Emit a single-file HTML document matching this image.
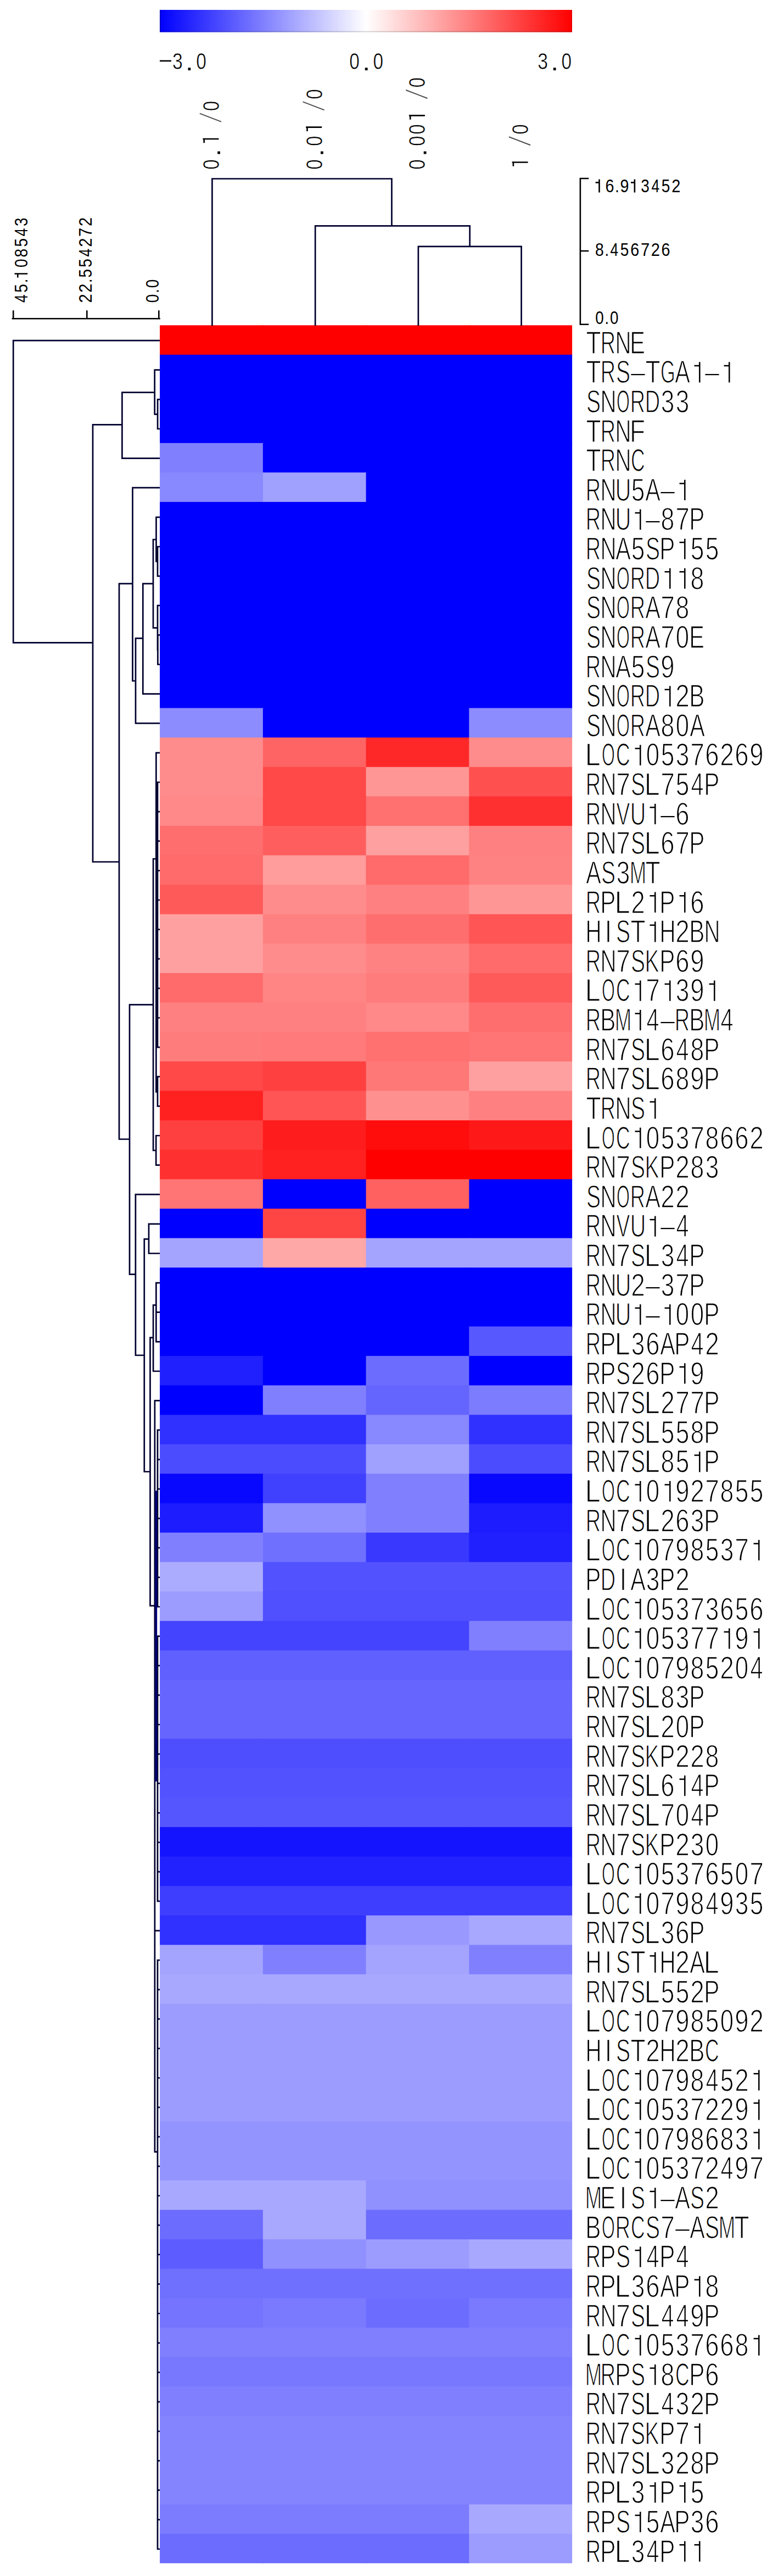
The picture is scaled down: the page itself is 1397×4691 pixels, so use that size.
<!DOCTYPE html>
<html><head><meta charset="utf-8"><title>Heatmap</title>
<style>html,body{margin:0;padding:0;background:#fff;}body{width:1397px;height:4691px;position:relative;overflow:hidden;}text{fill:#000;}</style>
</head><body>
<svg width="1397" height="4691" viewBox="0 0 1397 4691" style="position:absolute;left:0;top:0">
<defs><linearGradient id="g" x1="0" x2="1" y1="0" y2="0"><stop offset="0" stop-color="#0000ff"/><stop offset="0.5" stop-color="#ffffff"/><stop offset="1" stop-color="#ff0000"/></linearGradient></defs>
<rect x="291" y="18" width="751" height="40.6" fill="url(#g)"/>
<rect x="291" y="18" width="2" height="40.6" fill="#000" fill-opacity="0.22"/><rect x="293" y="56.6" width="749" height="2" fill="#000" fill-opacity="0.16"/><rect x="1040.4" y="18" width="1.6" height="38.6" fill="#000" fill-opacity="0.1"/>
<rect x="291.10" y="592.30" width="189.25" height="55.12" fill="#ff0000"/>
<rect x="478.85" y="592.30" width="189.25" height="55.12" fill="#ff0000"/>
<rect x="666.60" y="592.30" width="189.25" height="55.12" fill="#ff0000"/>
<rect x="854.35" y="592.30" width="187.75" height="55.12" fill="#ff0000"/>
<rect x="291.10" y="645.92" width="189.25" height="55.12" fill="#0000ff"/>
<rect x="478.85" y="645.92" width="189.25" height="55.12" fill="#0000ff"/>
<rect x="666.60" y="645.92" width="189.25" height="55.12" fill="#0000ff"/>
<rect x="854.35" y="645.92" width="187.75" height="55.12" fill="#0000ff"/>
<rect x="291.10" y="699.55" width="189.25" height="55.12" fill="#0000ff"/>
<rect x="478.85" y="699.55" width="189.25" height="55.12" fill="#0000ff"/>
<rect x="666.60" y="699.55" width="189.25" height="55.12" fill="#0000ff"/>
<rect x="854.35" y="699.55" width="187.75" height="55.12" fill="#0000ff"/>
<rect x="291.10" y="753.17" width="189.25" height="55.12" fill="#0000ff"/>
<rect x="478.85" y="753.17" width="189.25" height="55.12" fill="#0000ff"/>
<rect x="666.60" y="753.17" width="189.25" height="55.12" fill="#0000ff"/>
<rect x="854.35" y="753.17" width="187.75" height="55.12" fill="#0000ff"/>
<rect x="291.10" y="806.80" width="189.25" height="55.12" fill="#8080ff"/>
<rect x="478.85" y="806.80" width="189.25" height="55.12" fill="#0000ff"/>
<rect x="666.60" y="806.80" width="189.25" height="55.12" fill="#0000ff"/>
<rect x="854.35" y="806.80" width="187.75" height="55.12" fill="#0000ff"/>
<rect x="291.10" y="860.42" width="189.25" height="55.12" fill="#8888ff"/>
<rect x="478.85" y="860.42" width="189.25" height="55.12" fill="#a0a0ff"/>
<rect x="666.60" y="860.42" width="189.25" height="55.12" fill="#0000ff"/>
<rect x="854.35" y="860.42" width="187.75" height="55.12" fill="#0000ff"/>
<rect x="291.10" y="914.05" width="189.25" height="55.12" fill="#0000ff"/>
<rect x="478.85" y="914.05" width="189.25" height="55.12" fill="#0000ff"/>
<rect x="666.60" y="914.05" width="189.25" height="55.12" fill="#0000ff"/>
<rect x="854.35" y="914.05" width="187.75" height="55.12" fill="#0000ff"/>
<rect x="291.10" y="967.67" width="189.25" height="55.12" fill="#0000ff"/>
<rect x="478.85" y="967.67" width="189.25" height="55.12" fill="#0000ff"/>
<rect x="666.60" y="967.67" width="189.25" height="55.12" fill="#0000ff"/>
<rect x="854.35" y="967.67" width="187.75" height="55.12" fill="#0000ff"/>
<rect x="291.10" y="1021.30" width="189.25" height="55.12" fill="#0000ff"/>
<rect x="478.85" y="1021.30" width="189.25" height="55.12" fill="#0000ff"/>
<rect x="666.60" y="1021.30" width="189.25" height="55.12" fill="#0000ff"/>
<rect x="854.35" y="1021.30" width="187.75" height="55.12" fill="#0000ff"/>
<rect x="291.10" y="1074.92" width="189.25" height="55.12" fill="#0000ff"/>
<rect x="478.85" y="1074.92" width="189.25" height="55.12" fill="#0000ff"/>
<rect x="666.60" y="1074.92" width="189.25" height="55.12" fill="#0000ff"/>
<rect x="854.35" y="1074.92" width="187.75" height="55.12" fill="#0000ff"/>
<rect x="291.10" y="1128.55" width="189.25" height="55.12" fill="#0000ff"/>
<rect x="478.85" y="1128.55" width="189.25" height="55.12" fill="#0000ff"/>
<rect x="666.60" y="1128.55" width="189.25" height="55.12" fill="#0000ff"/>
<rect x="854.35" y="1128.55" width="187.75" height="55.12" fill="#0000ff"/>
<rect x="291.10" y="1182.17" width="189.25" height="55.12" fill="#0000ff"/>
<rect x="478.85" y="1182.17" width="189.25" height="55.12" fill="#0000ff"/>
<rect x="666.60" y="1182.17" width="189.25" height="55.12" fill="#0000ff"/>
<rect x="854.35" y="1182.17" width="187.75" height="55.12" fill="#0000ff"/>
<rect x="291.10" y="1235.80" width="189.25" height="55.12" fill="#0000ff"/>
<rect x="478.85" y="1235.80" width="189.25" height="55.12" fill="#0000ff"/>
<rect x="666.60" y="1235.80" width="189.25" height="55.12" fill="#0000ff"/>
<rect x="854.35" y="1235.80" width="187.75" height="55.12" fill="#0000ff"/>
<rect x="291.10" y="1289.42" width="189.25" height="55.12" fill="#8c8cff"/>
<rect x="478.85" y="1289.42" width="189.25" height="55.12" fill="#0000ff"/>
<rect x="666.60" y="1289.42" width="189.25" height="55.12" fill="#0000ff"/>
<rect x="854.35" y="1289.42" width="187.75" height="55.12" fill="#8c8cff"/>
<rect x="291.10" y="1343.05" width="189.25" height="55.12" fill="#ff8c8c"/>
<rect x="478.85" y="1343.05" width="189.25" height="55.12" fill="#ff6464"/>
<rect x="666.60" y="1343.05" width="189.25" height="55.12" fill="#ff2828"/>
<rect x="854.35" y="1343.05" width="187.75" height="55.12" fill="#ff8c8c"/>
<rect x="291.10" y="1396.67" width="189.25" height="55.12" fill="#ff8c8c"/>
<rect x="478.85" y="1396.67" width="189.25" height="55.12" fill="#ff4848"/>
<rect x="666.60" y="1396.67" width="189.25" height="55.12" fill="#ff9696"/>
<rect x="854.35" y="1396.67" width="187.75" height="55.12" fill="#ff5050"/>
<rect x="291.10" y="1450.30" width="189.25" height="55.12" fill="#ff8888"/>
<rect x="478.85" y="1450.30" width="189.25" height="55.12" fill="#ff4848"/>
<rect x="666.60" y="1450.30" width="189.25" height="55.12" fill="#ff7070"/>
<rect x="854.35" y="1450.30" width="187.75" height="55.12" fill="#ff3030"/>
<rect x="291.10" y="1503.92" width="189.25" height="55.12" fill="#ff6e6e"/>
<rect x="478.85" y="1503.92" width="189.25" height="55.12" fill="#ff5e5e"/>
<rect x="666.60" y="1503.92" width="189.25" height="55.12" fill="#ffa0a0"/>
<rect x="854.35" y="1503.92" width="187.75" height="55.12" fill="#ff8080"/>
<rect x="291.10" y="1557.55" width="189.25" height="55.12" fill="#ff6a6a"/>
<rect x="478.85" y="1557.55" width="189.25" height="55.12" fill="#ff9c9c"/>
<rect x="666.60" y="1557.55" width="189.25" height="55.12" fill="#ff6a6a"/>
<rect x="854.35" y="1557.55" width="187.75" height="55.12" fill="#ff8282"/>
<rect x="291.10" y="1611.17" width="189.25" height="55.12" fill="#ff5a5a"/>
<rect x="478.85" y="1611.17" width="189.25" height="55.12" fill="#ff8c8c"/>
<rect x="666.60" y="1611.17" width="189.25" height="55.12" fill="#ff8080"/>
<rect x="854.35" y="1611.17" width="187.75" height="55.12" fill="#ff9696"/>
<rect x="291.10" y="1664.80" width="189.25" height="55.12" fill="#ffa0a0"/>
<rect x="478.85" y="1664.80" width="189.25" height="55.12" fill="#ff8080"/>
<rect x="666.60" y="1664.80" width="189.25" height="55.12" fill="#ff6e6e"/>
<rect x="854.35" y="1664.80" width="187.75" height="55.12" fill="#ff5555"/>
<rect x="291.10" y="1718.42" width="189.25" height="55.12" fill="#ffa0a0"/>
<rect x="478.85" y="1718.42" width="189.25" height="55.12" fill="#ff8c8c"/>
<rect x="666.60" y="1718.42" width="189.25" height="55.12" fill="#ff8282"/>
<rect x="854.35" y="1718.42" width="187.75" height="55.12" fill="#ff6a6a"/>
<rect x="291.10" y="1772.05" width="189.25" height="55.12" fill="#ff6a6a"/>
<rect x="478.85" y="1772.05" width="189.25" height="55.12" fill="#ff8585"/>
<rect x="666.60" y="1772.05" width="189.25" height="55.12" fill="#ff7c7c"/>
<rect x="854.35" y="1772.05" width="187.75" height="55.12" fill="#ff5a5a"/>
<rect x="291.10" y="1825.67" width="189.25" height="55.12" fill="#ff8080"/>
<rect x="478.85" y="1825.67" width="189.25" height="55.12" fill="#ff8080"/>
<rect x="666.60" y="1825.67" width="189.25" height="55.12" fill="#ff8888"/>
<rect x="854.35" y="1825.67" width="187.75" height="55.12" fill="#ff6e6e"/>
<rect x="291.10" y="1879.30" width="189.25" height="55.12" fill="#ff7c7c"/>
<rect x="478.85" y="1879.30" width="189.25" height="55.12" fill="#ff7a7a"/>
<rect x="666.60" y="1879.30" width="189.25" height="55.12" fill="#ff7070"/>
<rect x="854.35" y="1879.30" width="187.75" height="55.12" fill="#ff7474"/>
<rect x="291.10" y="1932.92" width="189.25" height="55.12" fill="#ff4848"/>
<rect x="478.85" y="1932.92" width="189.25" height="55.12" fill="#ff4040"/>
<rect x="666.60" y="1932.92" width="189.25" height="55.12" fill="#ff7878"/>
<rect x="854.35" y="1932.92" width="187.75" height="55.12" fill="#ffa0a0"/>
<rect x="291.10" y="1986.55" width="189.25" height="55.12" fill="#ff2020"/>
<rect x="478.85" y="1986.55" width="189.25" height="55.12" fill="#ff5555"/>
<rect x="666.60" y="1986.55" width="189.25" height="55.12" fill="#ff9090"/>
<rect x="854.35" y="1986.55" width="187.75" height="55.12" fill="#ff8080"/>
<rect x="291.10" y="2040.17" width="189.25" height="55.12" fill="#ff4040"/>
<rect x="478.85" y="2040.17" width="189.25" height="55.12" fill="#ff1c1c"/>
<rect x="666.60" y="2040.17" width="189.25" height="55.12" fill="#ff0c0c"/>
<rect x="854.35" y="2040.17" width="187.75" height="55.12" fill="#ff1818"/>
<rect x="291.10" y="2093.80" width="189.25" height="55.12" fill="#ff3030"/>
<rect x="478.85" y="2093.80" width="189.25" height="55.12" fill="#ff2020"/>
<rect x="666.60" y="2093.80" width="189.25" height="55.12" fill="#ff0000"/>
<rect x="854.35" y="2093.80" width="187.75" height="55.12" fill="#ff0000"/>
<rect x="291.10" y="2147.43" width="189.25" height="55.12" fill="#ff7474"/>
<rect x="478.85" y="2147.43" width="189.25" height="55.12" fill="#0000ff"/>
<rect x="666.60" y="2147.43" width="189.25" height="55.12" fill="#ff6060"/>
<rect x="854.35" y="2147.43" width="187.75" height="55.12" fill="#0000ff"/>
<rect x="291.10" y="2201.05" width="189.25" height="55.12" fill="#0000ff"/>
<rect x="478.85" y="2201.05" width="189.25" height="55.12" fill="#ff4444"/>
<rect x="666.60" y="2201.05" width="189.25" height="55.12" fill="#0000ff"/>
<rect x="854.35" y="2201.05" width="187.75" height="55.12" fill="#0000ff"/>
<rect x="291.10" y="2254.68" width="189.25" height="55.12" fill="#a4a4ff"/>
<rect x="478.85" y="2254.68" width="189.25" height="55.12" fill="#ffa8a8"/>
<rect x="666.60" y="2254.68" width="189.25" height="55.12" fill="#a4a4ff"/>
<rect x="854.35" y="2254.68" width="187.75" height="55.12" fill="#a4a4ff"/>
<rect x="291.10" y="2308.30" width="189.25" height="55.12" fill="#0000ff"/>
<rect x="478.85" y="2308.30" width="189.25" height="55.12" fill="#0000ff"/>
<rect x="666.60" y="2308.30" width="189.25" height="55.12" fill="#0000ff"/>
<rect x="854.35" y="2308.30" width="187.75" height="55.12" fill="#0000ff"/>
<rect x="291.10" y="2361.93" width="189.25" height="55.12" fill="#0000ff"/>
<rect x="478.85" y="2361.93" width="189.25" height="55.12" fill="#0000ff"/>
<rect x="666.60" y="2361.93" width="189.25" height="55.12" fill="#0000ff"/>
<rect x="854.35" y="2361.93" width="187.75" height="55.12" fill="#0000ff"/>
<rect x="291.10" y="2415.55" width="189.25" height="55.12" fill="#0000ff"/>
<rect x="478.85" y="2415.55" width="189.25" height="55.12" fill="#0000ff"/>
<rect x="666.60" y="2415.55" width="189.25" height="55.12" fill="#0000ff"/>
<rect x="854.35" y="2415.55" width="187.75" height="55.12" fill="#5858ff"/>
<rect x="291.10" y="2469.18" width="189.25" height="55.12" fill="#2020ff"/>
<rect x="478.85" y="2469.18" width="189.25" height="55.12" fill="#0000ff"/>
<rect x="666.60" y="2469.18" width="189.25" height="55.12" fill="#6c6cff"/>
<rect x="854.35" y="2469.18" width="187.75" height="55.12" fill="#0000ff"/>
<rect x="291.10" y="2522.80" width="189.25" height="55.12" fill="#0000ff"/>
<rect x="478.85" y="2522.80" width="189.25" height="55.12" fill="#8080ff"/>
<rect x="666.60" y="2522.80" width="189.25" height="55.12" fill="#6464ff"/>
<rect x="854.35" y="2522.80" width="187.75" height="55.12" fill="#7c7cff"/>
<rect x="291.10" y="2576.43" width="189.25" height="55.12" fill="#3030ff"/>
<rect x="478.85" y="2576.43" width="189.25" height="55.12" fill="#3030ff"/>
<rect x="666.60" y="2576.43" width="189.25" height="55.12" fill="#8888ff"/>
<rect x="854.35" y="2576.43" width="187.75" height="55.12" fill="#3030ff"/>
<rect x="291.10" y="2630.05" width="189.25" height="55.12" fill="#4c4cff"/>
<rect x="478.85" y="2630.05" width="189.25" height="55.12" fill="#4c4cff"/>
<rect x="666.60" y="2630.05" width="189.25" height="55.12" fill="#a0a0ff"/>
<rect x="854.35" y="2630.05" width="187.75" height="55.12" fill="#4c4cff"/>
<rect x="291.10" y="2683.68" width="189.25" height="55.12" fill="#0808ff"/>
<rect x="478.85" y="2683.68" width="189.25" height="55.12" fill="#4040ff"/>
<rect x="666.60" y="2683.68" width="189.25" height="55.12" fill="#8080ff"/>
<rect x="854.35" y="2683.68" width="187.75" height="55.12" fill="#0808ff"/>
<rect x="291.10" y="2737.30" width="189.25" height="55.12" fill="#1c1cff"/>
<rect x="478.85" y="2737.30" width="189.25" height="55.12" fill="#9090ff"/>
<rect x="666.60" y="2737.30" width="189.25" height="55.12" fill="#8080ff"/>
<rect x="854.35" y="2737.30" width="187.75" height="55.12" fill="#1c1cff"/>
<rect x="291.10" y="2790.93" width="189.25" height="55.12" fill="#8080ff"/>
<rect x="478.85" y="2790.93" width="189.25" height="55.12" fill="#7070ff"/>
<rect x="666.60" y="2790.93" width="189.25" height="55.12" fill="#3838ff"/>
<rect x="854.35" y="2790.93" width="187.75" height="55.12" fill="#2020ff"/>
<rect x="291.10" y="2844.55" width="189.25" height="55.12" fill="#acacff"/>
<rect x="478.85" y="2844.55" width="189.25" height="55.12" fill="#5252ff"/>
<rect x="666.60" y="2844.55" width="189.25" height="55.12" fill="#5252ff"/>
<rect x="854.35" y="2844.55" width="187.75" height="55.12" fill="#5252ff"/>
<rect x="291.10" y="2898.18" width="189.25" height="55.12" fill="#9c9cff"/>
<rect x="478.85" y="2898.18" width="189.25" height="55.12" fill="#5050ff"/>
<rect x="666.60" y="2898.18" width="189.25" height="55.12" fill="#5050ff"/>
<rect x="854.35" y="2898.18" width="187.75" height="55.12" fill="#5050ff"/>
<rect x="291.10" y="2951.80" width="189.25" height="55.12" fill="#4444ff"/>
<rect x="478.85" y="2951.80" width="189.25" height="55.12" fill="#4444ff"/>
<rect x="666.60" y="2951.80" width="189.25" height="55.12" fill="#4444ff"/>
<rect x="854.35" y="2951.80" width="187.75" height="55.12" fill="#8080ff"/>
<rect x="291.10" y="3005.43" width="189.25" height="55.12" fill="#6060ff"/>
<rect x="478.85" y="3005.43" width="189.25" height="55.12" fill="#6060ff"/>
<rect x="666.60" y="3005.43" width="189.25" height="55.12" fill="#6060ff"/>
<rect x="854.35" y="3005.43" width="187.75" height="55.12" fill="#6060ff"/>
<rect x="291.10" y="3059.05" width="189.25" height="55.12" fill="#6666ff"/>
<rect x="478.85" y="3059.05" width="189.25" height="55.12" fill="#6666ff"/>
<rect x="666.60" y="3059.05" width="189.25" height="55.12" fill="#6666ff"/>
<rect x="854.35" y="3059.05" width="187.75" height="55.12" fill="#6666ff"/>
<rect x="291.10" y="3112.68" width="189.25" height="55.12" fill="#6666ff"/>
<rect x="478.85" y="3112.68" width="189.25" height="55.12" fill="#6666ff"/>
<rect x="666.60" y="3112.68" width="189.25" height="55.12" fill="#6666ff"/>
<rect x="854.35" y="3112.68" width="187.75" height="55.12" fill="#6666ff"/>
<rect x="291.10" y="3166.30" width="189.25" height="55.12" fill="#4e4eff"/>
<rect x="478.85" y="3166.30" width="189.25" height="55.12" fill="#4e4eff"/>
<rect x="666.60" y="3166.30" width="189.25" height="55.12" fill="#4e4eff"/>
<rect x="854.35" y="3166.30" width="187.75" height="55.12" fill="#4e4eff"/>
<rect x="291.10" y="3219.93" width="189.25" height="55.12" fill="#5252ff"/>
<rect x="478.85" y="3219.93" width="189.25" height="55.12" fill="#5252ff"/>
<rect x="666.60" y="3219.93" width="189.25" height="55.12" fill="#5252ff"/>
<rect x="854.35" y="3219.93" width="187.75" height="55.12" fill="#5252ff"/>
<rect x="291.10" y="3273.55" width="189.25" height="55.12" fill="#5656ff"/>
<rect x="478.85" y="3273.55" width="189.25" height="55.12" fill="#5656ff"/>
<rect x="666.60" y="3273.55" width="189.25" height="55.12" fill="#5656ff"/>
<rect x="854.35" y="3273.55" width="187.75" height="55.12" fill="#5656ff"/>
<rect x="291.10" y="3327.18" width="189.25" height="55.12" fill="#1414ff"/>
<rect x="478.85" y="3327.18" width="189.25" height="55.12" fill="#1414ff"/>
<rect x="666.60" y="3327.18" width="189.25" height="55.12" fill="#1414ff"/>
<rect x="854.35" y="3327.18" width="187.75" height="55.12" fill="#1414ff"/>
<rect x="291.10" y="3380.80" width="189.25" height="55.12" fill="#2222ff"/>
<rect x="478.85" y="3380.80" width="189.25" height="55.12" fill="#2222ff"/>
<rect x="666.60" y="3380.80" width="189.25" height="55.12" fill="#2222ff"/>
<rect x="854.35" y="3380.80" width="187.75" height="55.12" fill="#2222ff"/>
<rect x="291.10" y="3434.43" width="189.25" height="55.12" fill="#3e3eff"/>
<rect x="478.85" y="3434.43" width="189.25" height="55.12" fill="#3e3eff"/>
<rect x="666.60" y="3434.43" width="189.25" height="55.12" fill="#3e3eff"/>
<rect x="854.35" y="3434.43" width="187.75" height="55.12" fill="#3e3eff"/>
<rect x="291.10" y="3488.05" width="189.25" height="55.12" fill="#3030ff"/>
<rect x="478.85" y="3488.05" width="189.25" height="55.12" fill="#3030ff"/>
<rect x="666.60" y="3488.05" width="189.25" height="55.12" fill="#9898ff"/>
<rect x="854.35" y="3488.05" width="187.75" height="55.12" fill="#a8a8ff"/>
<rect x="291.10" y="3541.68" width="189.25" height="55.12" fill="#a4a4ff"/>
<rect x="478.85" y="3541.68" width="189.25" height="55.12" fill="#8080ff"/>
<rect x="666.60" y="3541.68" width="189.25" height="55.12" fill="#a4a4ff"/>
<rect x="854.35" y="3541.68" width="187.75" height="55.12" fill="#8080ff"/>
<rect x="291.10" y="3595.30" width="189.25" height="55.12" fill="#a8a8ff"/>
<rect x="478.85" y="3595.30" width="189.25" height="55.12" fill="#a8a8ff"/>
<rect x="666.60" y="3595.30" width="189.25" height="55.12" fill="#a8a8ff"/>
<rect x="854.35" y="3595.30" width="187.75" height="55.12" fill="#a8a8ff"/>
<rect x="291.10" y="3648.93" width="189.25" height="55.12" fill="#9c9cff"/>
<rect x="478.85" y="3648.93" width="189.25" height="55.12" fill="#9c9cff"/>
<rect x="666.60" y="3648.93" width="189.25" height="55.12" fill="#9c9cff"/>
<rect x="854.35" y="3648.93" width="187.75" height="55.12" fill="#9c9cff"/>
<rect x="291.10" y="3702.55" width="189.25" height="55.12" fill="#9c9cff"/>
<rect x="478.85" y="3702.55" width="189.25" height="55.12" fill="#9c9cff"/>
<rect x="666.60" y="3702.55" width="189.25" height="55.12" fill="#9c9cff"/>
<rect x="854.35" y="3702.55" width="187.75" height="55.12" fill="#9c9cff"/>
<rect x="291.10" y="3756.18" width="189.25" height="55.12" fill="#9c9cff"/>
<rect x="478.85" y="3756.18" width="189.25" height="55.12" fill="#9c9cff"/>
<rect x="666.60" y="3756.18" width="189.25" height="55.12" fill="#9c9cff"/>
<rect x="854.35" y="3756.18" width="187.75" height="55.12" fill="#9c9cff"/>
<rect x="291.10" y="3809.80" width="189.25" height="55.12" fill="#9c9cff"/>
<rect x="478.85" y="3809.80" width="189.25" height="55.12" fill="#9c9cff"/>
<rect x="666.60" y="3809.80" width="189.25" height="55.12" fill="#9c9cff"/>
<rect x="854.35" y="3809.80" width="187.75" height="55.12" fill="#9c9cff"/>
<rect x="291.10" y="3863.43" width="189.25" height="55.12" fill="#9494ff"/>
<rect x="478.85" y="3863.43" width="189.25" height="55.12" fill="#9494ff"/>
<rect x="666.60" y="3863.43" width="189.25" height="55.12" fill="#9494ff"/>
<rect x="854.35" y="3863.43" width="187.75" height="55.12" fill="#9494ff"/>
<rect x="291.10" y="3917.05" width="189.25" height="55.12" fill="#9494ff"/>
<rect x="478.85" y="3917.05" width="189.25" height="55.12" fill="#9494ff"/>
<rect x="666.60" y="3917.05" width="189.25" height="55.12" fill="#9494ff"/>
<rect x="854.35" y="3917.05" width="187.75" height="55.12" fill="#9494ff"/>
<rect x="291.10" y="3970.68" width="189.25" height="55.12" fill="#a8a8ff"/>
<rect x="478.85" y="3970.68" width="189.25" height="55.12" fill="#a8a8ff"/>
<rect x="666.60" y="3970.68" width="189.25" height="55.12" fill="#9090ff"/>
<rect x="854.35" y="3970.68" width="187.75" height="55.12" fill="#9090ff"/>
<rect x="291.10" y="4024.30" width="189.25" height="55.12" fill="#6c6cff"/>
<rect x="478.85" y="4024.30" width="189.25" height="55.12" fill="#a8a8ff"/>
<rect x="666.60" y="4024.30" width="189.25" height="55.12" fill="#6c6cff"/>
<rect x="854.35" y="4024.30" width="187.75" height="55.12" fill="#6c6cff"/>
<rect x="291.10" y="4077.93" width="189.25" height="55.12" fill="#5c5cff"/>
<rect x="478.85" y="4077.93" width="189.25" height="55.12" fill="#9090ff"/>
<rect x="666.60" y="4077.93" width="189.25" height="55.12" fill="#9c9cff"/>
<rect x="854.35" y="4077.93" width="187.75" height="55.12" fill="#a8a8ff"/>
<rect x="291.10" y="4131.55" width="189.25" height="55.12" fill="#7070ff"/>
<rect x="478.85" y="4131.55" width="189.25" height="55.12" fill="#7070ff"/>
<rect x="666.60" y="4131.55" width="189.25" height="55.12" fill="#7070ff"/>
<rect x="854.35" y="4131.55" width="187.75" height="55.12" fill="#7070ff"/>
<rect x="291.10" y="4185.18" width="189.25" height="55.12" fill="#7474ff"/>
<rect x="478.85" y="4185.18" width="189.25" height="55.12" fill="#7a7aff"/>
<rect x="666.60" y="4185.18" width="189.25" height="55.12" fill="#6c6cff"/>
<rect x="854.35" y="4185.18" width="187.75" height="55.12" fill="#7a7aff"/>
<rect x="291.10" y="4238.80" width="189.25" height="55.12" fill="#8080ff"/>
<rect x="478.85" y="4238.80" width="189.25" height="55.12" fill="#8080ff"/>
<rect x="666.60" y="4238.80" width="189.25" height="55.12" fill="#8080ff"/>
<rect x="854.35" y="4238.80" width="187.75" height="55.12" fill="#8080ff"/>
<rect x="291.10" y="4292.43" width="189.25" height="55.12" fill="#7878ff"/>
<rect x="478.85" y="4292.43" width="189.25" height="55.12" fill="#7878ff"/>
<rect x="666.60" y="4292.43" width="189.25" height="55.12" fill="#7878ff"/>
<rect x="854.35" y="4292.43" width="187.75" height="55.12" fill="#7878ff"/>
<rect x="291.10" y="4346.05" width="189.25" height="55.12" fill="#8080ff"/>
<rect x="478.85" y="4346.05" width="189.25" height="55.12" fill="#8080ff"/>
<rect x="666.60" y="4346.05" width="189.25" height="55.12" fill="#8080ff"/>
<rect x="854.35" y="4346.05" width="187.75" height="55.12" fill="#8080ff"/>
<rect x="291.10" y="4399.68" width="189.25" height="55.12" fill="#8484ff"/>
<rect x="478.85" y="4399.68" width="189.25" height="55.12" fill="#8484ff"/>
<rect x="666.60" y="4399.68" width="189.25" height="55.12" fill="#8484ff"/>
<rect x="854.35" y="4399.68" width="187.75" height="55.12" fill="#8484ff"/>
<rect x="291.10" y="4453.30" width="189.25" height="55.12" fill="#8484ff"/>
<rect x="478.85" y="4453.30" width="189.25" height="55.12" fill="#8484ff"/>
<rect x="666.60" y="4453.30" width="189.25" height="55.12" fill="#8484ff"/>
<rect x="854.35" y="4453.30" width="187.75" height="55.12" fill="#8484ff"/>
<rect x="291.10" y="4506.93" width="189.25" height="55.12" fill="#8484ff"/>
<rect x="478.85" y="4506.93" width="189.25" height="55.12" fill="#8484ff"/>
<rect x="666.60" y="4506.93" width="189.25" height="55.12" fill="#8484ff"/>
<rect x="854.35" y="4506.93" width="187.75" height="55.12" fill="#8484ff"/>
<rect x="291.10" y="4560.55" width="189.25" height="55.12" fill="#7c7cff"/>
<rect x="478.85" y="4560.55" width="189.25" height="55.12" fill="#7c7cff"/>
<rect x="666.60" y="4560.55" width="189.25" height="55.12" fill="#7c7cff"/>
<rect x="854.35" y="4560.55" width="187.75" height="55.12" fill="#a8a8ff"/>
<rect x="291.10" y="4614.18" width="189.25" height="53.62" fill="#6c6cff"/>
<rect x="478.85" y="4614.18" width="189.25" height="53.62" fill="#6c6cff"/>
<rect x="666.60" y="4614.18" width="189.25" height="53.62" fill="#6c6cff"/>
<rect x="854.35" y="4614.18" width="187.75" height="53.62" fill="#9c9cff"/>
<path d="M386.4 592V325.5H713.5V411.4M574.2 592V411.4H855.7V448.8M761.9 592V448.8H949.6V592M24.2 620.1V1170.4M24.2 620.1H289.7M24.2 1170.4H169.0M169.0 773.4V1569.5M169.0 773.4H222.4M222.4 714.7V834.6M222.4 834.6H289.7M222.4 714.7H281.7M281.7 673.7V754.3M281.7 673.7H289.7M281.7 754.3H287.1M287.1 727.4V781.0M287.1 727.4H289.7M287.1 781.0H289.7M169.0 1569.5H217.0M217.0 1062.8V2074.5M217.0 1062.8H241.5M241.5 888.2V1240.0M241.5 888.2H289.7M241.5 1240.0H247.0M247.0 1162.4V1317.2M247.0 1317.2H289.7M247.0 1162.4H260.3M260.3 1062.8V1263.6M260.3 1263.6H289.7M260.3 1062.8H279.0M279.0 982.5V1143.4M279.0 982.5H284.5M284.5 941.9V1022.5M284.5 941.9H289.7M284.5 1022.5H287.0M287.0 995.5V1049.1M287.0 995.5H289.7M287.0 1049.1H289.7M279.0 1143.4H287.0M287.0 1102.7V1183.4M287.0 1102.7H289.7M287.0 1183.4H287.4M287.4 1156.3V1210.0M287.4 1156.3H289.7M287.4 1210.0H289.7M217.0 2074.5H236.0M236.0 1829.7V2320.7M236.0 1829.7H279.1M279.1 1564.0V2095.0M279.1 1564.0H284.4M284.4 1370.8V1988.5M284.4 1370.8H289.7M287.0 1424.5V1907.1M287.0 1424.5H289.7M287.0 1478.1H289.7M287.0 1531.7H289.7M287.0 1585.3H289.7M287.0 1639.0H289.7M287.0 1692.6H289.7M287.0 1746.2H289.7M287.0 1799.8H289.7M287.0 1853.5H289.7M287.0 1907.1H289.7M284.4 1525.5H287.0M284.4 1988.5H287.0M287.0 1960.7V2014.3M287.0 1960.7H289.7M287.0 2014.3H289.7M279.1 2095.0H284.2M284.2 2068.0V2121.6M284.2 2068.0H289.7M284.2 2121.6H289.7M236.0 2320.7H246.9M246.9 2175.2V2468.0M246.9 2175.2H289.7M246.9 2468.0H262.8M262.8 2256.3V2680.0M262.8 2256.3H271.0M271.0 2228.8V2282.5M271.0 2228.8H289.7M271.0 2282.5H289.7M262.8 2680.0H273.5M273.5 2435.8V2924.2M273.5 2435.8H279.1M279.1 2376.7V2497.0M279.1 2497.0H289.7M279.1 2376.7H284.4M284.4 2336.1V2443.3M284.4 2336.1H289.7M284.4 2389.7H289.7M284.4 2443.3H289.7M273.5 2924.2H281.9M281.9 2550.6V3918.7M281.9 2550.6H289.7M287.0 2604.2V2926.0M287.0 2979.6V3462.2M287.0 2604.2H289.7M287.0 2657.8H289.7M287.0 2711.5H289.7M287.0 2765.1H289.7M287.0 2818.7H289.7M287.0 2872.3H289.7M287.0 2926.0H289.7M287.0 2979.6H289.7M287.0 3033.2H289.7M287.0 3086.8H289.7M287.0 3140.5H289.7M287.0 3194.1H289.7M287.0 3247.7H289.7M287.0 3301.3H289.7M287.0 3355.0H289.7M287.0 3408.6H289.7M287.0 3462.2H289.7M281.9 3515.8H289.7M281.9 3918.7H287.0M287.0 3569.5V4642.0M287.0 3569.5H289.7M287.0 3623.1H289.7M287.0 3676.7H289.7M287.0 3730.3H289.7M287.0 3784.0H289.7M287.0 3837.6H289.7M287.0 3891.2H289.7M287.0 3944.8H289.7M287.0 3998.5H289.7M287.0 4052.1H289.7M287.0 4105.7H289.7M287.0 4159.4H289.7M287.0 4213.0H289.7M287.0 4266.6H289.7M287.0 4320.2H289.7M287.0 4373.9H289.7M287.0 4427.5H289.7M287.0 4481.1H289.7M287.0 4534.7H289.7M287.0 4588.4H289.7M287.0 4642.0H289.7M281.9 2716.0H287.0" fill="none" stroke="#00002e" stroke-width="2.7" stroke-linecap="square"/>
<rect x="282.6" y="2715" width="3.6" height="529" fill="#000078"/>
<path d="M22.9 580.3H290.5M24.2 566.6V580.3M158.3 566.6V580.3M289.3 566.6V580.3M1056.9 325V590.8M1056.9 325H1071M1056.9 457.0H1071M1056.9 590.8H1071" fill="none" stroke="#000" stroke-width="2.6" stroke-linecap="square"/>
<rect x="291" y="109.6" width="21" height="2.6" fill="#000"/>
<g font-family="Liberation Sans" font-size="42.23" stroke="#fff" stroke-width="0.6"><text transform="translate(314.01,125.80) scale(0.7991,1)">3</text><text transform="translate(357.19,125.80) scale(0.7926,1)">0</text></g><g transform="translate(312.50,125.50)"><rect x="30.00" y="-2.20" width="4.80" height="4.80"/></g>
<g font-family="Liberation Sans" font-size="42.23" stroke="#fff" stroke-width="0.6"><text transform="translate(636.29,125.80) scale(0.7926,1)">0</text><text transform="translate(679.49,125.80) scale(0.7926,1)">0</text></g><g transform="translate(634.80,125.50)"><rect x="30.00" y="-2.20" width="4.80" height="4.80"/></g>
<g font-family="Liberation Sans" font-size="42.23" stroke="#fff" stroke-width="0.6"><text transform="translate(979.31,125.80) scale(0.7991,1)">3</text><text transform="translate(1022.49,125.80) scale(0.7926,1)">0</text></g><g transform="translate(977.80,125.50)"><rect x="30.00" y="-2.20" width="4.80" height="4.80"/></g>
<g font-family="Liberation Sans" font-size="42.23" stroke="#fff" stroke-width="0.6"><text transform="translate(398.70,308.66) rotate(-90) scale(0.7926,1)">0</text><text transform="translate(398.70,202.16) rotate(-90) scale(0.7926,1)">0</text></g><path transform="translate(398.40,310.00) rotate(-90)" d="M88.35 4.50L103.35 -34.60" stroke="#000" stroke-opacity="0.7" stroke-width="2.0" fill="none"/><g transform="translate(398.40,310.00) rotate(-90)"><rect x="29.55" y="-2.20" width="4.80" height="4.80"/></g><path transform="translate(398.40,310.00) rotate(-90)" d="M57.05 -27.70V-1.30M51.05 -26.70H57.05" stroke="#000" stroke-width="2.6" fill="none" stroke-linecap="square"/>
<g font-family="Liberation Sans" font-size="42.23" stroke="#fff" stroke-width="0.6"><text transform="translate(586.50,308.66) rotate(-90) scale(0.7926,1)">0</text><text transform="translate(586.50,266.06) rotate(-90) scale(0.7926,1)">0</text><text transform="translate(586.50,180.86) rotate(-90) scale(0.7926,1)">0</text></g><path transform="translate(586.20,310.00) rotate(-90)" d="M109.65 4.50L124.65 -34.60" stroke="#000" stroke-opacity="0.7" stroke-width="2.0" fill="none"/><g transform="translate(586.20,310.00) rotate(-90)"><rect x="29.55" y="-2.20" width="4.80" height="4.80"/></g><path transform="translate(586.20,310.00) rotate(-90)" d="M78.35 -27.70V-1.30M72.35 -26.70H78.35" stroke="#000" stroke-width="2.6" fill="none" stroke-linecap="square"/>
<g font-family="Liberation Sans" font-size="42.23" stroke="#fff" stroke-width="0.6"><text transform="translate(774.20,308.66) rotate(-90) scale(0.7926,1)">0</text><text transform="translate(774.20,266.06) rotate(-90) scale(0.7926,1)">0</text><text transform="translate(774.20,244.76) rotate(-90) scale(0.7926,1)">0</text><text transform="translate(774.20,159.56) rotate(-90) scale(0.7926,1)">0</text></g><path transform="translate(773.90,310.00) rotate(-90)" d="M130.95 4.50L145.95 -34.60" stroke="#000" stroke-opacity="0.7" stroke-width="2.0" fill="none"/><g transform="translate(773.90,310.00) rotate(-90)"><rect x="29.55" y="-2.20" width="4.80" height="4.80"/></g><path transform="translate(773.90,310.00) rotate(-90)" d="M99.65 -27.70V-1.30M93.65 -26.70H99.65" stroke="#000" stroke-width="2.6" fill="none" stroke-linecap="square"/>
<g font-family="Liberation Sans" font-size="42.23" stroke="#fff" stroke-width="0.6"><text transform="translate(961.90,244.76) rotate(-90) scale(0.7926,1)">0</text></g><path transform="translate(961.60,310.00) rotate(-90)" d="M45.75 4.50L60.75 -34.60" stroke="#000" stroke-opacity="0.7" stroke-width="2.0" fill="none"/><path transform="translate(961.60,310.00) rotate(-90)" d="M14.45 -27.70V-1.30M8.45 -26.70H14.45" stroke="#000" stroke-width="2.6" fill="none" stroke-linecap="square"/>
<g font-family="Liberation Sans" font-size="33.90"><text transform="translate(1102.59,350.40) scale(0.8503,1)">6</text><text transform="translate(1120.35,350.40) scale(0.8000,1)">.</text><text transform="translate(1129.53,350.40) scale(0.8494,1)">9</text><text transform="translate(1167.35,350.40) scale(0.8275,1)">3</text><text transform="translate(1186.58,350.40) scale(0.7786,1)">4</text><text transform="translate(1204.83,350.40) scale(0.8275,1)">5</text><text transform="translate(1223.26,350.40) scale(0.8612,1)">2</text></g><path transform="translate(1082.55,350.40)" d="M8.98 -22.50V-1.30M3.38 -18.00H8.98M73.34 -22.50V-1.30M67.75 -18.00H73.34" stroke="#000" stroke-width="2.6" fill="none" stroke-linecap="square"/>
<g font-family="Liberation Sans" font-size="33.90"><text transform="translate(1084.05,466.00) scale(0.8361,1)">8</text><text transform="translate(1101.58,466.00) scale(0.8000,1)">.</text><text transform="translate(1111.50,466.00) scale(0.7786,1)">4</text><text transform="translate(1129.75,466.00) scale(0.8275,1)">5</text><text transform="translate(1148.18,466.00) scale(0.8503,1)">6</text><text transform="translate(1166.91,466.00) scale(0.8631,1)">7</text><text transform="translate(1185.72,466.00) scale(0.8612,1)">2</text><text transform="translate(1204.49,466.00) scale(0.8503,1)">6</text></g>
<g font-family="Liberation Sans" font-size="33.90"><text transform="translate(1084.20,589.80) scale(0.8208,1)">0</text><text transform="translate(1101.58,589.80) scale(0.8000,1)">.</text><text transform="translate(1111.02,589.80) scale(0.8208,1)">0</text></g>
<g font-family="Liberation Sans" font-size="33.90"><text transform="translate(50.30,550.97) rotate(-90) scale(0.7786,1)">4</text><text transform="translate(50.30,532.72) rotate(-90) scale(0.8275,1)">5</text><text transform="translate(50.30,515.30) rotate(-90) scale(0.8000,1)">.</text><text transform="translate(50.30,487.09) rotate(-90) scale(0.8208,1)">0</text><text transform="translate(50.30,468.47) rotate(-90) scale(0.8361,1)">8</text><text transform="translate(50.30,449.59) rotate(-90) scale(0.8275,1)">5</text><text transform="translate(50.30,430.30) rotate(-90) scale(0.7786,1)">4</text><text transform="translate(50.30,411.99) rotate(-90) scale(0.8275,1)">3</text></g><path transform="translate(50.30,553.10) rotate(-90)" d="M54.58 -22.50V-1.30M48.98 -18.00H54.58" stroke="#000" stroke-width="2.6" fill="none" stroke-linecap="square"/>
<g font-family="Liberation Sans" font-size="33.90"><text transform="translate(167.30,551.53) rotate(-90) scale(0.8612,1)">2</text><text transform="translate(167.30,532.76) rotate(-90) scale(0.8612,1)">2</text><text transform="translate(167.30,515.00) rotate(-90) scale(0.8000,1)">.</text><text transform="translate(167.30,505.60) rotate(-90) scale(0.8275,1)">5</text><text transform="translate(167.30,486.83) rotate(-90) scale(0.8275,1)">5</text><text transform="translate(167.30,467.54) rotate(-90) scale(0.7786,1)">4</text><text transform="translate(167.30,449.63) rotate(-90) scale(0.8612,1)">2</text><text transform="translate(167.30,430.90) rotate(-90) scale(0.8631,1)">7</text><text transform="translate(167.30,412.09) rotate(-90) scale(0.8612,1)">2</text></g>
<g font-family="Liberation Sans" font-size="33.90"><text transform="translate(288.60,551.15) rotate(-90) scale(0.8208,1)">0</text><text transform="translate(288.60,533.77) rotate(-90) scale(0.8000,1)">.</text><text transform="translate(288.60,524.33) rotate(-90) scale(0.8208,1)">0</text></g>
<g font-family="Liberation Sans" font-size="57.41" stroke="#fff" stroke-width="1.5"><text transform="translate(1067.40,643.65) scale(0.7763,1)">T</text><text transform="translate(1093.64,643.65) scale(0.6600,1)">R</text><text transform="translate(1120.45,643.65) scale(0.7016,1)">N</text><text transform="translate(1147.34,643.65) scale(0.7231,1)">E</text></g>
<g font-family="Liberation Sans" font-size="57.41" stroke="#fff" stroke-width="1.5"><text transform="translate(1067.40,697.27) scale(0.7763,1)">T</text><text transform="translate(1093.64,697.27) scale(0.6600,1)">R</text><text transform="translate(1121.98,697.27) scale(0.6808,1)">S</text><text transform="translate(1148.75,697.27) scale(0.8307,1)">–</text><text transform="translate(1175.40,697.27) scale(0.7763,1)">T</text><text transform="translate(1203.02,697.27) scale(0.6003,1)">G</text><text transform="translate(1229.17,697.27) scale(0.7224,1)">A</text><text transform="translate(1283.75,697.27) scale(0.8307,1)">–</text></g><path transform="translate(1067.50,696.52)" d="M206.80 -35.95V-1.25M198.30 -30.60H206.80M260.80 -35.95V-1.25M252.30 -30.60H260.80" stroke="#000" stroke-width="2.5" fill="none" stroke-linecap="square"/>
<g font-family="Liberation Sans" font-size="57.41" stroke="#fff" stroke-width="1.5"><text transform="translate(1067.98,750.90) scale(0.6808,1)">S</text><text transform="translate(1093.45,750.90) scale(0.7016,1)">N</text><text transform="translate(1123.04,750.90) scale(0.5358,1)">O</text><text transform="translate(1147.64,750.90) scale(0.6600,1)">R</text><text transform="translate(1174.63,750.90) scale(0.6617,1)">D</text><text transform="translate(1203.81,750.90) scale(0.7715,1)">3</text><text transform="translate(1230.81,750.90) scale(0.7715,1)">3</text></g>
<g font-family="Liberation Sans" font-size="57.41" stroke="#fff" stroke-width="1.5"><text transform="translate(1067.40,804.52) scale(0.7763,1)">T</text><text transform="translate(1093.64,804.52) scale(0.6600,1)">R</text><text transform="translate(1120.45,804.52) scale(0.7016,1)">N</text><text transform="translate(1146.97,804.52) scale(0.8018,1)">F</text></g>
<g font-family="Liberation Sans" font-size="57.41" stroke="#fff" stroke-width="1.5"><text transform="translate(1067.40,858.15) scale(0.7763,1)">T</text><text transform="translate(1093.64,858.15) scale(0.6600,1)">R</text><text transform="translate(1120.45,858.15) scale(0.7016,1)">N</text><text transform="translate(1148.95,858.15) scale(0.6188,1)">C</text></g>
<g font-family="Liberation Sans" font-size="57.41" stroke="#fff" stroke-width="1.5"><text transform="translate(1066.64,911.77) scale(0.6600,1)">R</text><text transform="translate(1093.45,911.77) scale(0.7016,1)">N</text><text transform="translate(1120.69,911.77) scale(0.6901,1)">U</text><text transform="translate(1149.73,911.77) scale(0.7715,1)">5</text><text transform="translate(1175.17,911.77) scale(0.7224,1)">A</text><text transform="translate(1202.75,911.77) scale(0.8307,1)">–</text></g><path transform="translate(1067.50,911.02)" d="M179.80 -35.95V-1.25M171.30 -30.60H179.80" stroke="#000" stroke-width="2.5" fill="none" stroke-linecap="square"/>
<g font-family="Liberation Sans" font-size="57.41" stroke="#fff" stroke-width="1.5"><text transform="translate(1066.64,965.40) scale(0.6600,1)">R</text><text transform="translate(1093.45,965.40) scale(0.7016,1)">N</text><text transform="translate(1120.69,965.40) scale(0.6901,1)">U</text><text transform="translate(1175.75,965.40) scale(0.8307,1)">–</text><text transform="translate(1203.56,965.40) scale(0.7795,1)">8</text><text transform="translate(1230.13,965.40) scale(0.8046,1)">7</text><text transform="translate(1255.28,965.40) scale(0.7363,1)">P</text></g><path transform="translate(1067.50,964.65)" d="M98.80 -35.95V-1.25M90.30 -30.60H98.80" stroke="#000" stroke-width="2.5" fill="none" stroke-linecap="square"/>
<g font-family="Liberation Sans" font-size="57.41" stroke="#fff" stroke-width="1.5"><text transform="translate(1066.64,1019.02) scale(0.6600,1)">R</text><text transform="translate(1093.45,1019.02) scale(0.7016,1)">N</text><text transform="translate(1121.17,1019.02) scale(0.7224,1)">A</text><text transform="translate(1149.73,1019.02) scale(0.7715,1)">5</text><text transform="translate(1175.98,1019.02) scale(0.6808,1)">S</text><text transform="translate(1201.28,1019.02) scale(0.7363,1)">P</text><text transform="translate(1257.73,1019.02) scale(0.7715,1)">5</text><text transform="translate(1284.73,1019.02) scale(0.7715,1)">5</text></g><path transform="translate(1067.50,1018.27)" d="M179.80 -35.95V-1.25M171.30 -30.60H179.80" stroke="#000" stroke-width="2.5" fill="none" stroke-linecap="square"/>
<g font-family="Liberation Sans" font-size="57.41" stroke="#fff" stroke-width="1.5"><text transform="translate(1067.98,1072.65) scale(0.6808,1)">S</text><text transform="translate(1093.45,1072.65) scale(0.7016,1)">N</text><text transform="translate(1123.04,1072.65) scale(0.5358,1)">O</text><text transform="translate(1147.64,1072.65) scale(0.6600,1)">R</text><text transform="translate(1174.63,1072.65) scale(0.6617,1)">D</text><text transform="translate(1257.56,1072.65) scale(0.7795,1)">8</text></g><path transform="translate(1067.50,1071.90)" d="M152.80 -35.95V-1.25M144.30 -30.60H152.80M179.80 -35.95V-1.25M171.30 -30.60H179.80" stroke="#000" stroke-width="2.5" fill="none" stroke-linecap="square"/>
<g font-family="Liberation Sans" font-size="57.41" stroke="#fff" stroke-width="1.5"><text transform="translate(1067.98,1126.27) scale(0.6808,1)">S</text><text transform="translate(1093.45,1126.27) scale(0.7016,1)">N</text><text transform="translate(1123.04,1126.27) scale(0.5358,1)">O</text><text transform="translate(1147.64,1126.27) scale(0.6600,1)">R</text><text transform="translate(1175.17,1126.27) scale(0.7224,1)">A</text><text transform="translate(1203.13,1126.27) scale(0.8046,1)">7</text><text transform="translate(1230.56,1126.27) scale(0.7795,1)">8</text></g>
<g font-family="Liberation Sans" font-size="57.41" stroke="#fff" stroke-width="1.5"><text transform="translate(1067.98,1179.90) scale(0.6808,1)">S</text><text transform="translate(1093.45,1179.90) scale(0.7016,1)">N</text><text transform="translate(1123.04,1179.90) scale(0.5358,1)">O</text><text transform="translate(1147.64,1179.90) scale(0.6600,1)">R</text><text transform="translate(1175.17,1179.90) scale(0.7224,1)">A</text><text transform="translate(1203.13,1179.90) scale(0.8046,1)">7</text><text transform="translate(1230.78,1179.90) scale(0.7652,1)">0</text><text transform="translate(1255.34,1179.90) scale(0.7231,1)">E</text></g>
<g font-family="Liberation Sans" font-size="57.41" stroke="#fff" stroke-width="1.5"><text transform="translate(1066.64,1233.52) scale(0.6600,1)">R</text><text transform="translate(1093.45,1233.52) scale(0.7016,1)">N</text><text transform="translate(1121.17,1233.52) scale(0.7224,1)">A</text><text transform="translate(1149.73,1233.52) scale(0.7715,1)">5</text><text transform="translate(1175.98,1233.52) scale(0.6808,1)">S</text><text transform="translate(1203.37,1233.52) scale(0.7919,1)">9</text></g>
<g font-family="Liberation Sans" font-size="57.41" stroke="#fff" stroke-width="1.5"><text transform="translate(1067.98,1287.15) scale(0.6808,1)">S</text><text transform="translate(1093.45,1287.15) scale(0.7016,1)">N</text><text transform="translate(1123.04,1287.15) scale(0.5358,1)">O</text><text transform="translate(1147.64,1287.15) scale(0.6600,1)">R</text><text transform="translate(1174.63,1287.15) scale(0.6617,1)">D</text><text transform="translate(1230.18,1287.15) scale(0.8029,1)">2</text><text transform="translate(1255.28,1287.15) scale(0.7363,1)">B</text></g><path transform="translate(1067.50,1286.40)" d="M152.80 -35.95V-1.25M144.30 -30.60H152.80" stroke="#000" stroke-width="2.5" fill="none" stroke-linecap="square"/>
<g font-family="Liberation Sans" font-size="57.41" stroke="#fff" stroke-width="1.5"><text transform="translate(1067.98,1340.77) scale(0.6808,1)">S</text><text transform="translate(1093.45,1340.77) scale(0.7016,1)">N</text><text transform="translate(1123.04,1340.77) scale(0.5358,1)">O</text><text transform="translate(1147.64,1340.77) scale(0.6600,1)">R</text><text transform="translate(1175.17,1340.77) scale(0.7224,1)">A</text><text transform="translate(1203.56,1340.77) scale(0.7795,1)">8</text><text transform="translate(1230.78,1340.77) scale(0.7652,1)">0</text><text transform="translate(1256.17,1340.77) scale(0.7224,1)">A</text></g>
<g font-family="Liberation Sans" font-size="57.41" stroke="#fff" stroke-width="1.5"><text transform="translate(1065.56,1394.40) scale(0.8888,1)">L</text><text transform="translate(1096.04,1394.40) scale(0.5358,1)">O</text><text transform="translate(1121.95,1394.40) scale(0.6188,1)">C</text><text transform="translate(1176.78,1394.40) scale(0.7652,1)">0</text><text transform="translate(1203.73,1394.40) scale(0.7715,1)">5</text><text transform="translate(1230.81,1394.40) scale(0.7715,1)">3</text><text transform="translate(1257.13,1394.40) scale(0.8046,1)">7</text><text transform="translate(1284.19,1394.40) scale(0.7927,1)">6</text><text transform="translate(1311.18,1394.40) scale(0.8029,1)">2</text><text transform="translate(1338.19,1394.40) scale(0.7927,1)">6</text><text transform="translate(1365.37,1394.40) scale(0.7919,1)">9</text></g><path transform="translate(1067.50,1393.65)" d="M98.80 -35.95V-1.25M90.30 -30.60H98.80" stroke="#000" stroke-width="2.5" fill="none" stroke-linecap="square"/>
<g font-family="Liberation Sans" font-size="57.41" stroke="#fff" stroke-width="1.5"><text transform="translate(1066.64,1448.02) scale(0.6600,1)">R</text><text transform="translate(1093.45,1448.02) scale(0.7016,1)">N</text><text transform="translate(1122.13,1448.02) scale(0.8046,1)">7</text><text transform="translate(1148.98,1448.02) scale(0.6808,1)">S</text><text transform="translate(1173.56,1448.02) scale(0.8888,1)">L</text><text transform="translate(1203.13,1448.02) scale(0.8046,1)">7</text><text transform="translate(1230.73,1448.02) scale(0.7715,1)">5</text><text transform="translate(1258.54,1448.02) scale(0.7259,1)">4</text><text transform="translate(1282.28,1448.02) scale(0.7363,1)">P</text></g>
<g font-family="Liberation Sans" font-size="57.41" stroke="#fff" stroke-width="1.5"><text transform="translate(1066.64,1501.65) scale(0.6600,1)">R</text><text transform="translate(1093.45,1501.65) scale(0.7016,1)">N</text><text transform="translate(1122.59,1501.65) scale(0.6483,1)">V</text><text transform="translate(1147.69,1501.65) scale(0.6901,1)">U</text><text transform="translate(1202.75,1501.65) scale(0.8307,1)">–</text><text transform="translate(1230.19,1501.65) scale(0.7927,1)">6</text></g><path transform="translate(1067.50,1500.90)" d="M125.80 -35.95V-1.25M117.30 -30.60H125.80" stroke="#000" stroke-width="2.5" fill="none" stroke-linecap="square"/>
<g font-family="Liberation Sans" font-size="57.41" stroke="#fff" stroke-width="1.5"><text transform="translate(1066.64,1555.27) scale(0.6600,1)">R</text><text transform="translate(1093.45,1555.27) scale(0.7016,1)">N</text><text transform="translate(1122.13,1555.27) scale(0.8046,1)">7</text><text transform="translate(1148.98,1555.27) scale(0.6808,1)">S</text><text transform="translate(1173.56,1555.27) scale(0.8888,1)">L</text><text transform="translate(1203.19,1555.27) scale(0.7927,1)">6</text><text transform="translate(1230.13,1555.27) scale(0.8046,1)">7</text><text transform="translate(1255.28,1555.27) scale(0.7363,1)">P</text></g>
<g font-family="Liberation Sans" font-size="57.41" stroke="#fff" stroke-width="1.5"><text transform="translate(1067.17,1608.90) scale(0.7224,1)">A</text><text transform="translate(1094.98,1608.90) scale(0.6808,1)">S</text><text transform="translate(1122.81,1608.90) scale(0.7715,1)">3</text><text transform="translate(1146.75,1608.90) scale(0.6379,1)">M</text><text transform="translate(1175.40,1608.90) scale(0.7763,1)">T</text></g>
<g font-family="Liberation Sans" font-size="57.41" stroke="#fff" stroke-width="1.5"><text transform="translate(1066.64,1662.52) scale(0.6600,1)">R</text><text transform="translate(1093.28,1662.52) scale(0.7363,1)">P</text><text transform="translate(1119.56,1662.52) scale(0.8888,1)">L</text><text transform="translate(1149.18,1662.52) scale(0.8029,1)">2</text><text transform="translate(1201.28,1662.52) scale(0.7363,1)">P</text><text transform="translate(1257.19,1662.52) scale(0.7927,1)">6</text></g><path transform="translate(1067.50,1661.77)" d="M125.80 -35.95V-1.25M117.30 -30.60H125.80M179.80 -35.95V-1.25M171.30 -30.60H179.80" stroke="#000" stroke-width="2.5" fill="none" stroke-linecap="square"/>
<g font-family="Liberation Sans" font-size="57.41" stroke="#fff" stroke-width="1.5"><text transform="translate(1066.45,1716.15) scale(0.7016,1)">H</text><text transform="translate(1101.78,1716.15) scale(0.7800,1)">I</text><text transform="translate(1121.98,1716.15) scale(0.6808,1)">S</text><text transform="translate(1148.40,1716.15) scale(0.7763,1)">T</text><text transform="translate(1201.45,1716.15) scale(0.7016,1)">H</text><text transform="translate(1230.18,1716.15) scale(0.8029,1)">2</text><text transform="translate(1255.28,1716.15) scale(0.7363,1)">B</text><text transform="translate(1282.45,1716.15) scale(0.7016,1)">N</text></g><path transform="translate(1067.50,1715.40)" d="M125.80 -35.95V-1.25M117.30 -30.60H125.80" stroke="#000" stroke-width="2.5" fill="none" stroke-linecap="square"/>
<g font-family="Liberation Sans" font-size="57.41" stroke="#fff" stroke-width="1.5"><text transform="translate(1066.64,1769.77) scale(0.6600,1)">R</text><text transform="translate(1093.45,1769.77) scale(0.7016,1)">N</text><text transform="translate(1122.13,1769.77) scale(0.8046,1)">7</text><text transform="translate(1148.98,1769.77) scale(0.6808,1)">S</text><text transform="translate(1174.53,1769.77) scale(0.6831,1)">K</text><text transform="translate(1201.28,1769.77) scale(0.7363,1)">P</text><text transform="translate(1230.19,1769.77) scale(0.7927,1)">6</text><text transform="translate(1257.37,1769.77) scale(0.7919,1)">9</text></g>
<g font-family="Liberation Sans" font-size="57.41" stroke="#fff" stroke-width="1.5"><text transform="translate(1065.56,1823.40) scale(0.8888,1)">L</text><text transform="translate(1096.04,1823.40) scale(0.5358,1)">O</text><text transform="translate(1121.95,1823.40) scale(0.6188,1)">C</text><text transform="translate(1176.13,1823.40) scale(0.8046,1)">7</text><text transform="translate(1230.81,1823.40) scale(0.7715,1)">3</text><text transform="translate(1257.37,1823.40) scale(0.7919,1)">9</text></g><path transform="translate(1067.50,1822.65)" d="M98.80 -35.95V-1.25M90.30 -30.60H98.80M152.80 -35.95V-1.25M144.30 -30.60H152.80M233.80 -35.95V-1.25M225.30 -30.60H233.80" stroke="#000" stroke-width="2.5" fill="none" stroke-linecap="square"/>
<g font-family="Liberation Sans" font-size="57.41" stroke="#fff" stroke-width="1.5"><text transform="translate(1066.64,1877.02) scale(0.6600,1)">R</text><text transform="translate(1093.28,1877.02) scale(0.7363,1)">B</text><text transform="translate(1119.75,1877.02) scale(0.6379,1)">M</text><text transform="translate(1177.54,1877.02) scale(0.7259,1)">4</text><text transform="translate(1202.75,1877.02) scale(0.8307,1)">–</text><text transform="translate(1228.64,1877.02) scale(0.6600,1)">R</text><text transform="translate(1255.28,1877.02) scale(0.7363,1)">B</text><text transform="translate(1281.75,1877.02) scale(0.6379,1)">M</text><text transform="translate(1312.54,1877.02) scale(0.7259,1)">4</text></g><path transform="translate(1067.50,1876.27)" d="M98.80 -35.95V-1.25M90.30 -30.60H98.80" stroke="#000" stroke-width="2.5" fill="none" stroke-linecap="square"/>
<g font-family="Liberation Sans" font-size="57.41" stroke="#fff" stroke-width="1.5"><text transform="translate(1066.64,1930.65) scale(0.6600,1)">R</text><text transform="translate(1093.45,1930.65) scale(0.7016,1)">N</text><text transform="translate(1122.13,1930.65) scale(0.8046,1)">7</text><text transform="translate(1148.98,1930.65) scale(0.6808,1)">S</text><text transform="translate(1173.56,1930.65) scale(0.8888,1)">L</text><text transform="translate(1203.19,1930.65) scale(0.7927,1)">6</text><text transform="translate(1231.54,1930.65) scale(0.7259,1)">4</text><text transform="translate(1257.56,1930.65) scale(0.7795,1)">8</text><text transform="translate(1282.28,1930.65) scale(0.7363,1)">P</text></g>
<g font-family="Liberation Sans" font-size="57.41" stroke="#fff" stroke-width="1.5"><text transform="translate(1066.64,1984.27) scale(0.6600,1)">R</text><text transform="translate(1093.45,1984.27) scale(0.7016,1)">N</text><text transform="translate(1122.13,1984.27) scale(0.8046,1)">7</text><text transform="translate(1148.98,1984.27) scale(0.6808,1)">S</text><text transform="translate(1173.56,1984.27) scale(0.8888,1)">L</text><text transform="translate(1203.19,1984.27) scale(0.7927,1)">6</text><text transform="translate(1230.56,1984.27) scale(0.7795,1)">8</text><text transform="translate(1257.37,1984.27) scale(0.7919,1)">9</text><text transform="translate(1282.28,1984.27) scale(0.7363,1)">P</text></g>
<g font-family="Liberation Sans" font-size="57.41" stroke="#fff" stroke-width="1.5"><text transform="translate(1067.40,2037.90) scale(0.7763,1)">T</text><text transform="translate(1093.64,2037.90) scale(0.6600,1)">R</text><text transform="translate(1120.45,2037.90) scale(0.7016,1)">N</text><text transform="translate(1148.98,2037.90) scale(0.6808,1)">S</text></g><path transform="translate(1067.50,2037.15)" d="M125.80 -35.95V-1.25M117.30 -30.60H125.80" stroke="#000" stroke-width="2.5" fill="none" stroke-linecap="square"/>
<g font-family="Liberation Sans" font-size="57.41" stroke="#fff" stroke-width="1.5"><text transform="translate(1065.56,2091.53) scale(0.8888,1)">L</text><text transform="translate(1096.04,2091.53) scale(0.5358,1)">O</text><text transform="translate(1121.95,2091.53) scale(0.6188,1)">C</text><text transform="translate(1176.78,2091.53) scale(0.7652,1)">0</text><text transform="translate(1203.73,2091.53) scale(0.7715,1)">5</text><text transform="translate(1230.81,2091.53) scale(0.7715,1)">3</text><text transform="translate(1257.13,2091.53) scale(0.8046,1)">7</text><text transform="translate(1284.56,2091.53) scale(0.7795,1)">8</text><text transform="translate(1311.19,2091.53) scale(0.7927,1)">6</text><text transform="translate(1338.19,2091.53) scale(0.7927,1)">6</text><text transform="translate(1365.18,2091.53) scale(0.8029,1)">2</text></g><path transform="translate(1067.50,2090.78)" d="M98.80 -35.95V-1.25M90.30 -30.60H98.80" stroke="#000" stroke-width="2.5" fill="none" stroke-linecap="square"/>
<g font-family="Liberation Sans" font-size="57.41" stroke="#fff" stroke-width="1.5"><text transform="translate(1066.64,2145.15) scale(0.6600,1)">R</text><text transform="translate(1093.45,2145.15) scale(0.7016,1)">N</text><text transform="translate(1122.13,2145.15) scale(0.8046,1)">7</text><text transform="translate(1148.98,2145.15) scale(0.6808,1)">S</text><text transform="translate(1174.53,2145.15) scale(0.6831,1)">K</text><text transform="translate(1201.28,2145.15) scale(0.7363,1)">P</text><text transform="translate(1230.18,2145.15) scale(0.8029,1)">2</text><text transform="translate(1257.56,2145.15) scale(0.7795,1)">8</text><text transform="translate(1284.81,2145.15) scale(0.7715,1)">3</text></g>
<g font-family="Liberation Sans" font-size="57.41" stroke="#fff" stroke-width="1.5"><text transform="translate(1067.98,2198.78) scale(0.6808,1)">S</text><text transform="translate(1093.45,2198.78) scale(0.7016,1)">N</text><text transform="translate(1123.04,2198.78) scale(0.5358,1)">O</text><text transform="translate(1147.64,2198.78) scale(0.6600,1)">R</text><text transform="translate(1175.17,2198.78) scale(0.7224,1)">A</text><text transform="translate(1203.18,2198.78) scale(0.8029,1)">2</text><text transform="translate(1230.18,2198.78) scale(0.8029,1)">2</text></g>
<g font-family="Liberation Sans" font-size="57.41" stroke="#fff" stroke-width="1.5"><text transform="translate(1066.64,2252.40) scale(0.6600,1)">R</text><text transform="translate(1093.45,2252.40) scale(0.7016,1)">N</text><text transform="translate(1122.59,2252.40) scale(0.6483,1)">V</text><text transform="translate(1147.69,2252.40) scale(0.6901,1)">U</text><text transform="translate(1202.75,2252.40) scale(0.8307,1)">–</text><text transform="translate(1231.54,2252.40) scale(0.7259,1)">4</text></g><path transform="translate(1067.50,2251.65)" d="M125.80 -35.95V-1.25M117.30 -30.60H125.80" stroke="#000" stroke-width="2.5" fill="none" stroke-linecap="square"/>
<g font-family="Liberation Sans" font-size="57.41" stroke="#fff" stroke-width="1.5"><text transform="translate(1066.64,2306.03) scale(0.6600,1)">R</text><text transform="translate(1093.45,2306.03) scale(0.7016,1)">N</text><text transform="translate(1122.13,2306.03) scale(0.8046,1)">7</text><text transform="translate(1148.98,2306.03) scale(0.6808,1)">S</text><text transform="translate(1173.56,2306.03) scale(0.8888,1)">L</text><text transform="translate(1203.81,2306.03) scale(0.7715,1)">3</text><text transform="translate(1231.54,2306.03) scale(0.7259,1)">4</text><text transform="translate(1255.28,2306.03) scale(0.7363,1)">P</text></g>
<g font-family="Liberation Sans" font-size="57.41" stroke="#fff" stroke-width="1.5"><text transform="translate(1066.64,2359.65) scale(0.6600,1)">R</text><text transform="translate(1093.45,2359.65) scale(0.7016,1)">N</text><text transform="translate(1120.69,2359.65) scale(0.6901,1)">U</text><text transform="translate(1149.18,2359.65) scale(0.8029,1)">2</text><text transform="translate(1175.75,2359.65) scale(0.8307,1)">–</text><text transform="translate(1203.81,2359.65) scale(0.7715,1)">3</text><text transform="translate(1230.13,2359.65) scale(0.8046,1)">7</text><text transform="translate(1255.28,2359.65) scale(0.7363,1)">P</text></g>
<g font-family="Liberation Sans" font-size="57.41" stroke="#fff" stroke-width="1.5"><text transform="translate(1066.64,2413.28) scale(0.6600,1)">R</text><text transform="translate(1093.45,2413.28) scale(0.7016,1)">N</text><text transform="translate(1120.69,2413.28) scale(0.6901,1)">U</text><text transform="translate(1175.75,2413.28) scale(0.8307,1)">–</text><text transform="translate(1230.78,2413.28) scale(0.7652,1)">0</text><text transform="translate(1257.78,2413.28) scale(0.7652,1)">0</text><text transform="translate(1282.28,2413.28) scale(0.7363,1)">P</text></g><path transform="translate(1067.50,2412.53)" d="M98.80 -35.95V-1.25M90.30 -30.60H98.80M152.80 -35.95V-1.25M144.30 -30.60H152.80" stroke="#000" stroke-width="2.5" fill="none" stroke-linecap="square"/>
<g font-family="Liberation Sans" font-size="57.41" stroke="#fff" stroke-width="1.5"><text transform="translate(1066.64,2466.90) scale(0.6600,1)">R</text><text transform="translate(1093.28,2466.90) scale(0.7363,1)">P</text><text transform="translate(1119.56,2466.90) scale(0.8888,1)">L</text><text transform="translate(1149.81,2466.90) scale(0.7715,1)">3</text><text transform="translate(1176.19,2466.90) scale(0.7927,1)">6</text><text transform="translate(1202.17,2466.90) scale(0.7224,1)">A</text><text transform="translate(1228.28,2466.90) scale(0.7363,1)">P</text><text transform="translate(1258.54,2466.90) scale(0.7259,1)">4</text><text transform="translate(1284.18,2466.90) scale(0.8029,1)">2</text></g>
<g font-family="Liberation Sans" font-size="57.41" stroke="#fff" stroke-width="1.5"><text transform="translate(1066.64,2520.53) scale(0.6600,1)">R</text><text transform="translate(1093.28,2520.53) scale(0.7363,1)">P</text><text transform="translate(1121.98,2520.53) scale(0.6808,1)">S</text><text transform="translate(1149.18,2520.53) scale(0.8029,1)">2</text><text transform="translate(1176.19,2520.53) scale(0.7927,1)">6</text><text transform="translate(1201.28,2520.53) scale(0.7363,1)">P</text><text transform="translate(1257.37,2520.53) scale(0.7919,1)">9</text></g><path transform="translate(1067.50,2519.78)" d="M179.80 -35.95V-1.25M171.30 -30.60H179.80" stroke="#000" stroke-width="2.5" fill="none" stroke-linecap="square"/>
<g font-family="Liberation Sans" font-size="57.41" stroke="#fff" stroke-width="1.5"><text transform="translate(1066.64,2574.15) scale(0.6600,1)">R</text><text transform="translate(1093.45,2574.15) scale(0.7016,1)">N</text><text transform="translate(1122.13,2574.15) scale(0.8046,1)">7</text><text transform="translate(1148.98,2574.15) scale(0.6808,1)">S</text><text transform="translate(1173.56,2574.15) scale(0.8888,1)">L</text><text transform="translate(1203.18,2574.15) scale(0.8029,1)">2</text><text transform="translate(1230.13,2574.15) scale(0.8046,1)">7</text><text transform="translate(1257.13,2574.15) scale(0.8046,1)">7</text><text transform="translate(1282.28,2574.15) scale(0.7363,1)">P</text></g>
<g font-family="Liberation Sans" font-size="57.41" stroke="#fff" stroke-width="1.5"><text transform="translate(1066.64,2627.78) scale(0.6600,1)">R</text><text transform="translate(1093.45,2627.78) scale(0.7016,1)">N</text><text transform="translate(1122.13,2627.78) scale(0.8046,1)">7</text><text transform="translate(1148.98,2627.78) scale(0.6808,1)">S</text><text transform="translate(1173.56,2627.78) scale(0.8888,1)">L</text><text transform="translate(1203.73,2627.78) scale(0.7715,1)">5</text><text transform="translate(1230.73,2627.78) scale(0.7715,1)">5</text><text transform="translate(1257.56,2627.78) scale(0.7795,1)">8</text><text transform="translate(1282.28,2627.78) scale(0.7363,1)">P</text></g>
<g font-family="Liberation Sans" font-size="57.41" stroke="#fff" stroke-width="1.5"><text transform="translate(1066.64,2681.40) scale(0.6600,1)">R</text><text transform="translate(1093.45,2681.40) scale(0.7016,1)">N</text><text transform="translate(1122.13,2681.40) scale(0.8046,1)">7</text><text transform="translate(1148.98,2681.40) scale(0.6808,1)">S</text><text transform="translate(1173.56,2681.40) scale(0.8888,1)">L</text><text transform="translate(1203.56,2681.40) scale(0.7795,1)">8</text><text transform="translate(1230.73,2681.40) scale(0.7715,1)">5</text><text transform="translate(1282.28,2681.40) scale(0.7363,1)">P</text></g><path transform="translate(1067.50,2680.65)" d="M206.80 -35.95V-1.25M198.30 -30.60H206.80" stroke="#000" stroke-width="2.5" fill="none" stroke-linecap="square"/>
<g font-family="Liberation Sans" font-size="57.41" stroke="#fff" stroke-width="1.5"><text transform="translate(1065.56,2735.03) scale(0.8888,1)">L</text><text transform="translate(1096.04,2735.03) scale(0.5358,1)">O</text><text transform="translate(1121.95,2735.03) scale(0.6188,1)">C</text><text transform="translate(1176.78,2735.03) scale(0.7652,1)">0</text><text transform="translate(1230.37,2735.03) scale(0.7919,1)">9</text><text transform="translate(1257.18,2735.03) scale(0.8029,1)">2</text><text transform="translate(1284.13,2735.03) scale(0.8046,1)">7</text><text transform="translate(1311.56,2735.03) scale(0.7795,1)">8</text><text transform="translate(1338.73,2735.03) scale(0.7715,1)">5</text><text transform="translate(1365.73,2735.03) scale(0.7715,1)">5</text></g><path transform="translate(1067.50,2734.28)" d="M98.80 -35.95V-1.25M90.30 -30.60H98.80M152.80 -35.95V-1.25M144.30 -30.60H152.80" stroke="#000" stroke-width="2.5" fill="none" stroke-linecap="square"/>
<g font-family="Liberation Sans" font-size="57.41" stroke="#fff" stroke-width="1.5"><text transform="translate(1066.64,2788.65) scale(0.6600,1)">R</text><text transform="translate(1093.45,2788.65) scale(0.7016,1)">N</text><text transform="translate(1122.13,2788.65) scale(0.8046,1)">7</text><text transform="translate(1148.98,2788.65) scale(0.6808,1)">S</text><text transform="translate(1173.56,2788.65) scale(0.8888,1)">L</text><text transform="translate(1203.18,2788.65) scale(0.8029,1)">2</text><text transform="translate(1230.19,2788.65) scale(0.7927,1)">6</text><text transform="translate(1257.81,2788.65) scale(0.7715,1)">3</text><text transform="translate(1282.28,2788.65) scale(0.7363,1)">P</text></g>
<g font-family="Liberation Sans" font-size="57.41" stroke="#fff" stroke-width="1.5"><text transform="translate(1065.56,2842.28) scale(0.8888,1)">L</text><text transform="translate(1096.04,2842.28) scale(0.5358,1)">O</text><text transform="translate(1121.95,2842.28) scale(0.6188,1)">C</text><text transform="translate(1176.78,2842.28) scale(0.7652,1)">0</text><text transform="translate(1203.13,2842.28) scale(0.8046,1)">7</text><text transform="translate(1230.37,2842.28) scale(0.7919,1)">9</text><text transform="translate(1257.56,2842.28) scale(0.7795,1)">8</text><text transform="translate(1284.73,2842.28) scale(0.7715,1)">5</text><text transform="translate(1311.81,2842.28) scale(0.7715,1)">3</text><text transform="translate(1338.13,2842.28) scale(0.8046,1)">7</text></g><path transform="translate(1067.50,2841.53)" d="M98.80 -35.95V-1.25M90.30 -30.60H98.80M314.80 -35.95V-1.25M306.30 -30.60H314.80" stroke="#000" stroke-width="2.5" fill="none" stroke-linecap="square"/>
<g font-family="Liberation Sans" font-size="57.41" stroke="#fff" stroke-width="1.5"><text transform="translate(1066.28,2895.90) scale(0.7363,1)">P</text><text transform="translate(1093.63,2895.90) scale(0.6617,1)">D</text><text transform="translate(1128.78,2895.90) scale(0.7800,1)">I</text><text transform="translate(1148.17,2895.90) scale(0.7224,1)">A</text><text transform="translate(1176.81,2895.90) scale(0.7715,1)">3</text><text transform="translate(1201.28,2895.90) scale(0.7363,1)">P</text><text transform="translate(1230.18,2895.90) scale(0.8029,1)">2</text></g>
<g font-family="Liberation Sans" font-size="57.41" stroke="#fff" stroke-width="1.5"><text transform="translate(1065.56,2949.53) scale(0.8888,1)">L</text><text transform="translate(1096.04,2949.53) scale(0.5358,1)">O</text><text transform="translate(1121.95,2949.53) scale(0.6188,1)">C</text><text transform="translate(1176.78,2949.53) scale(0.7652,1)">0</text><text transform="translate(1203.73,2949.53) scale(0.7715,1)">5</text><text transform="translate(1230.81,2949.53) scale(0.7715,1)">3</text><text transform="translate(1257.13,2949.53) scale(0.8046,1)">7</text><text transform="translate(1284.81,2949.53) scale(0.7715,1)">3</text><text transform="translate(1311.19,2949.53) scale(0.7927,1)">6</text><text transform="translate(1338.73,2949.53) scale(0.7715,1)">5</text><text transform="translate(1365.19,2949.53) scale(0.7927,1)">6</text></g><path transform="translate(1067.50,2948.78)" d="M98.80 -35.95V-1.25M90.30 -30.60H98.80" stroke="#000" stroke-width="2.5" fill="none" stroke-linecap="square"/>
<g font-family="Liberation Sans" font-size="57.41" stroke="#fff" stroke-width="1.5"><text transform="translate(1065.56,3003.15) scale(0.8888,1)">L</text><text transform="translate(1096.04,3003.15) scale(0.5358,1)">O</text><text transform="translate(1121.95,3003.15) scale(0.6188,1)">C</text><text transform="translate(1176.78,3003.15) scale(0.7652,1)">0</text><text transform="translate(1203.73,3003.15) scale(0.7715,1)">5</text><text transform="translate(1230.81,3003.15) scale(0.7715,1)">3</text><text transform="translate(1257.13,3003.15) scale(0.8046,1)">7</text><text transform="translate(1284.13,3003.15) scale(0.8046,1)">7</text><text transform="translate(1338.37,3003.15) scale(0.7919,1)">9</text></g><path transform="translate(1067.50,3002.40)" d="M98.80 -35.95V-1.25M90.30 -30.60H98.80M260.80 -35.95V-1.25M252.30 -30.60H260.80M314.80 -35.95V-1.25M306.30 -30.60H314.80" stroke="#000" stroke-width="2.5" fill="none" stroke-linecap="square"/>
<g font-family="Liberation Sans" font-size="57.41" stroke="#fff" stroke-width="1.5"><text transform="translate(1065.56,3056.78) scale(0.8888,1)">L</text><text transform="translate(1096.04,3056.78) scale(0.5358,1)">O</text><text transform="translate(1121.95,3056.78) scale(0.6188,1)">C</text><text transform="translate(1176.78,3056.78) scale(0.7652,1)">0</text><text transform="translate(1203.13,3056.78) scale(0.8046,1)">7</text><text transform="translate(1230.37,3056.78) scale(0.7919,1)">9</text><text transform="translate(1257.56,3056.78) scale(0.7795,1)">8</text><text transform="translate(1284.73,3056.78) scale(0.7715,1)">5</text><text transform="translate(1311.18,3056.78) scale(0.8029,1)">2</text><text transform="translate(1338.78,3056.78) scale(0.7652,1)">0</text><text transform="translate(1366.54,3056.78) scale(0.7259,1)">4</text></g><path transform="translate(1067.50,3056.03)" d="M98.80 -35.95V-1.25M90.30 -30.60H98.80" stroke="#000" stroke-width="2.5" fill="none" stroke-linecap="square"/>
<g font-family="Liberation Sans" font-size="57.41" stroke="#fff" stroke-width="1.5"><text transform="translate(1066.64,3110.40) scale(0.6600,1)">R</text><text transform="translate(1093.45,3110.40) scale(0.7016,1)">N</text><text transform="translate(1122.13,3110.40) scale(0.8046,1)">7</text><text transform="translate(1148.98,3110.40) scale(0.6808,1)">S</text><text transform="translate(1173.56,3110.40) scale(0.8888,1)">L</text><text transform="translate(1203.56,3110.40) scale(0.7795,1)">8</text><text transform="translate(1230.81,3110.40) scale(0.7715,1)">3</text><text transform="translate(1255.28,3110.40) scale(0.7363,1)">P</text></g>
<g font-family="Liberation Sans" font-size="57.41" stroke="#fff" stroke-width="1.5"><text transform="translate(1066.64,3164.03) scale(0.6600,1)">R</text><text transform="translate(1093.45,3164.03) scale(0.7016,1)">N</text><text transform="translate(1122.13,3164.03) scale(0.8046,1)">7</text><text transform="translate(1148.98,3164.03) scale(0.6808,1)">S</text><text transform="translate(1173.56,3164.03) scale(0.8888,1)">L</text><text transform="translate(1203.18,3164.03) scale(0.8029,1)">2</text><text transform="translate(1230.78,3164.03) scale(0.7652,1)">0</text><text transform="translate(1255.28,3164.03) scale(0.7363,1)">P</text></g>
<g font-family="Liberation Sans" font-size="57.41" stroke="#fff" stroke-width="1.5"><text transform="translate(1066.64,3217.65) scale(0.6600,1)">R</text><text transform="translate(1093.45,3217.65) scale(0.7016,1)">N</text><text transform="translate(1122.13,3217.65) scale(0.8046,1)">7</text><text transform="translate(1148.98,3217.65) scale(0.6808,1)">S</text><text transform="translate(1174.53,3217.65) scale(0.6831,1)">K</text><text transform="translate(1201.28,3217.65) scale(0.7363,1)">P</text><text transform="translate(1230.18,3217.65) scale(0.8029,1)">2</text><text transform="translate(1257.18,3217.65) scale(0.8029,1)">2</text><text transform="translate(1284.56,3217.65) scale(0.7795,1)">8</text></g>
<g font-family="Liberation Sans" font-size="57.41" stroke="#fff" stroke-width="1.5"><text transform="translate(1066.64,3271.28) scale(0.6600,1)">R</text><text transform="translate(1093.45,3271.28) scale(0.7016,1)">N</text><text transform="translate(1122.13,3271.28) scale(0.8046,1)">7</text><text transform="translate(1148.98,3271.28) scale(0.6808,1)">S</text><text transform="translate(1173.56,3271.28) scale(0.8888,1)">L</text><text transform="translate(1203.19,3271.28) scale(0.7927,1)">6</text><text transform="translate(1258.54,3271.28) scale(0.7259,1)">4</text><text transform="translate(1282.28,3271.28) scale(0.7363,1)">P</text></g><path transform="translate(1067.50,3270.53)" d="M179.80 -35.95V-1.25M171.30 -30.60H179.80" stroke="#000" stroke-width="2.5" fill="none" stroke-linecap="square"/>
<g font-family="Liberation Sans" font-size="57.41" stroke="#fff" stroke-width="1.5"><text transform="translate(1066.64,3324.90) scale(0.6600,1)">R</text><text transform="translate(1093.45,3324.90) scale(0.7016,1)">N</text><text transform="translate(1122.13,3324.90) scale(0.8046,1)">7</text><text transform="translate(1148.98,3324.90) scale(0.6808,1)">S</text><text transform="translate(1173.56,3324.90) scale(0.8888,1)">L</text><text transform="translate(1203.13,3324.90) scale(0.8046,1)">7</text><text transform="translate(1230.78,3324.90) scale(0.7652,1)">0</text><text transform="translate(1258.54,3324.90) scale(0.7259,1)">4</text><text transform="translate(1282.28,3324.90) scale(0.7363,1)">P</text></g>
<g font-family="Liberation Sans" font-size="57.41" stroke="#fff" stroke-width="1.5"><text transform="translate(1066.64,3378.53) scale(0.6600,1)">R</text><text transform="translate(1093.45,3378.53) scale(0.7016,1)">N</text><text transform="translate(1122.13,3378.53) scale(0.8046,1)">7</text><text transform="translate(1148.98,3378.53) scale(0.6808,1)">S</text><text transform="translate(1174.53,3378.53) scale(0.6831,1)">K</text><text transform="translate(1201.28,3378.53) scale(0.7363,1)">P</text><text transform="translate(1230.18,3378.53) scale(0.8029,1)">2</text><text transform="translate(1257.81,3378.53) scale(0.7715,1)">3</text><text transform="translate(1284.78,3378.53) scale(0.7652,1)">0</text></g>
<g font-family="Liberation Sans" font-size="57.41" stroke="#fff" stroke-width="1.5"><text transform="translate(1065.56,3432.15) scale(0.8888,1)">L</text><text transform="translate(1096.04,3432.15) scale(0.5358,1)">O</text><text transform="translate(1121.95,3432.15) scale(0.6188,1)">C</text><text transform="translate(1176.78,3432.15) scale(0.7652,1)">0</text><text transform="translate(1203.73,3432.15) scale(0.7715,1)">5</text><text transform="translate(1230.81,3432.15) scale(0.7715,1)">3</text><text transform="translate(1257.13,3432.15) scale(0.8046,1)">7</text><text transform="translate(1284.19,3432.15) scale(0.7927,1)">6</text><text transform="translate(1311.73,3432.15) scale(0.7715,1)">5</text><text transform="translate(1338.78,3432.15) scale(0.7652,1)">0</text><text transform="translate(1365.13,3432.15) scale(0.8046,1)">7</text></g><path transform="translate(1067.50,3431.40)" d="M98.80 -35.95V-1.25M90.30 -30.60H98.80" stroke="#000" stroke-width="2.5" fill="none" stroke-linecap="square"/>
<g font-family="Liberation Sans" font-size="57.41" stroke="#fff" stroke-width="1.5"><text transform="translate(1065.56,3485.78) scale(0.8888,1)">L</text><text transform="translate(1096.04,3485.78) scale(0.5358,1)">O</text><text transform="translate(1121.95,3485.78) scale(0.6188,1)">C</text><text transform="translate(1176.78,3485.78) scale(0.7652,1)">0</text><text transform="translate(1203.13,3485.78) scale(0.8046,1)">7</text><text transform="translate(1230.37,3485.78) scale(0.7919,1)">9</text><text transform="translate(1257.56,3485.78) scale(0.7795,1)">8</text><text transform="translate(1285.54,3485.78) scale(0.7259,1)">4</text><text transform="translate(1311.37,3485.78) scale(0.7919,1)">9</text><text transform="translate(1338.81,3485.78) scale(0.7715,1)">3</text><text transform="translate(1365.73,3485.78) scale(0.7715,1)">5</text></g><path transform="translate(1067.50,3485.03)" d="M98.80 -35.95V-1.25M90.30 -30.60H98.80" stroke="#000" stroke-width="2.5" fill="none" stroke-linecap="square"/>
<g font-family="Liberation Sans" font-size="57.41" stroke="#fff" stroke-width="1.5"><text transform="translate(1066.64,3539.40) scale(0.6600,1)">R</text><text transform="translate(1093.45,3539.40) scale(0.7016,1)">N</text><text transform="translate(1122.13,3539.40) scale(0.8046,1)">7</text><text transform="translate(1148.98,3539.40) scale(0.6808,1)">S</text><text transform="translate(1173.56,3539.40) scale(0.8888,1)">L</text><text transform="translate(1203.81,3539.40) scale(0.7715,1)">3</text><text transform="translate(1230.19,3539.40) scale(0.7927,1)">6</text><text transform="translate(1255.28,3539.40) scale(0.7363,1)">P</text></g>
<g font-family="Liberation Sans" font-size="57.41" stroke="#fff" stroke-width="1.5"><text transform="translate(1066.45,3593.03) scale(0.7016,1)">H</text><text transform="translate(1101.78,3593.03) scale(0.7800,1)">I</text><text transform="translate(1121.98,3593.03) scale(0.6808,1)">S</text><text transform="translate(1148.40,3593.03) scale(0.7763,1)">T</text><text transform="translate(1201.45,3593.03) scale(0.7016,1)">H</text><text transform="translate(1230.18,3593.03) scale(0.8029,1)">2</text><text transform="translate(1256.17,3593.03) scale(0.7224,1)">A</text><text transform="translate(1281.56,3593.03) scale(0.8888,1)">L</text></g><path transform="translate(1067.50,3592.28)" d="M125.80 -35.95V-1.25M117.30 -30.60H125.80" stroke="#000" stroke-width="2.5" fill="none" stroke-linecap="square"/>
<g font-family="Liberation Sans" font-size="57.41" stroke="#fff" stroke-width="1.5"><text transform="translate(1066.64,3646.65) scale(0.6600,1)">R</text><text transform="translate(1093.45,3646.65) scale(0.7016,1)">N</text><text transform="translate(1122.13,3646.65) scale(0.8046,1)">7</text><text transform="translate(1148.98,3646.65) scale(0.6808,1)">S</text><text transform="translate(1173.56,3646.65) scale(0.8888,1)">L</text><text transform="translate(1203.73,3646.65) scale(0.7715,1)">5</text><text transform="translate(1230.73,3646.65) scale(0.7715,1)">5</text><text transform="translate(1257.18,3646.65) scale(0.8029,1)">2</text><text transform="translate(1282.28,3646.65) scale(0.7363,1)">P</text></g>
<g font-family="Liberation Sans" font-size="57.41" stroke="#fff" stroke-width="1.5"><text transform="translate(1065.56,3700.28) scale(0.8888,1)">L</text><text transform="translate(1096.04,3700.28) scale(0.5358,1)">O</text><text transform="translate(1121.95,3700.28) scale(0.6188,1)">C</text><text transform="translate(1176.78,3700.28) scale(0.7652,1)">0</text><text transform="translate(1203.13,3700.28) scale(0.8046,1)">7</text><text transform="translate(1230.37,3700.28) scale(0.7919,1)">9</text><text transform="translate(1257.56,3700.28) scale(0.7795,1)">8</text><text transform="translate(1284.73,3700.28) scale(0.7715,1)">5</text><text transform="translate(1311.78,3700.28) scale(0.7652,1)">0</text><text transform="translate(1338.37,3700.28) scale(0.7919,1)">9</text><text transform="translate(1365.18,3700.28) scale(0.8029,1)">2</text></g><path transform="translate(1067.50,3699.53)" d="M98.80 -35.95V-1.25M90.30 -30.60H98.80" stroke="#000" stroke-width="2.5" fill="none" stroke-linecap="square"/>
<g font-family="Liberation Sans" font-size="57.41" stroke="#fff" stroke-width="1.5"><text transform="translate(1066.45,3753.90) scale(0.7016,1)">H</text><text transform="translate(1101.78,3753.90) scale(0.7800,1)">I</text><text transform="translate(1121.98,3753.90) scale(0.6808,1)">S</text><text transform="translate(1148.40,3753.90) scale(0.7763,1)">T</text><text transform="translate(1176.18,3753.90) scale(0.8029,1)">2</text><text transform="translate(1201.45,3753.90) scale(0.7016,1)">H</text><text transform="translate(1230.18,3753.90) scale(0.8029,1)">2</text><text transform="translate(1255.28,3753.90) scale(0.7363,1)">B</text><text transform="translate(1283.95,3753.90) scale(0.6188,1)">C</text></g>
<g font-family="Liberation Sans" font-size="57.41" stroke="#fff" stroke-width="1.5"><text transform="translate(1065.56,3807.53) scale(0.8888,1)">L</text><text transform="translate(1096.04,3807.53) scale(0.5358,1)">O</text><text transform="translate(1121.95,3807.53) scale(0.6188,1)">C</text><text transform="translate(1176.78,3807.53) scale(0.7652,1)">0</text><text transform="translate(1203.13,3807.53) scale(0.8046,1)">7</text><text transform="translate(1230.37,3807.53) scale(0.7919,1)">9</text><text transform="translate(1257.56,3807.53) scale(0.7795,1)">8</text><text transform="translate(1285.54,3807.53) scale(0.7259,1)">4</text><text transform="translate(1311.73,3807.53) scale(0.7715,1)">5</text><text transform="translate(1338.18,3807.53) scale(0.8029,1)">2</text></g><path transform="translate(1067.50,3806.78)" d="M98.80 -35.95V-1.25M90.30 -30.60H98.80M314.80 -35.95V-1.25M306.30 -30.60H314.80" stroke="#000" stroke-width="2.5" fill="none" stroke-linecap="square"/>
<g font-family="Liberation Sans" font-size="57.41" stroke="#fff" stroke-width="1.5"><text transform="translate(1065.56,3861.15) scale(0.8888,1)">L</text><text transform="translate(1096.04,3861.15) scale(0.5358,1)">O</text><text transform="translate(1121.95,3861.15) scale(0.6188,1)">C</text><text transform="translate(1176.78,3861.15) scale(0.7652,1)">0</text><text transform="translate(1203.73,3861.15) scale(0.7715,1)">5</text><text transform="translate(1230.81,3861.15) scale(0.7715,1)">3</text><text transform="translate(1257.13,3861.15) scale(0.8046,1)">7</text><text transform="translate(1284.18,3861.15) scale(0.8029,1)">2</text><text transform="translate(1311.18,3861.15) scale(0.8029,1)">2</text><text transform="translate(1338.37,3861.15) scale(0.7919,1)">9</text></g><path transform="translate(1067.50,3860.40)" d="M98.80 -35.95V-1.25M90.30 -30.60H98.80M314.80 -35.95V-1.25M306.30 -30.60H314.80" stroke="#000" stroke-width="2.5" fill="none" stroke-linecap="square"/>
<g font-family="Liberation Sans" font-size="57.41" stroke="#fff" stroke-width="1.5"><text transform="translate(1065.56,3914.78) scale(0.8888,1)">L</text><text transform="translate(1096.04,3914.78) scale(0.5358,1)">O</text><text transform="translate(1121.95,3914.78) scale(0.6188,1)">C</text><text transform="translate(1176.78,3914.78) scale(0.7652,1)">0</text><text transform="translate(1203.13,3914.78) scale(0.8046,1)">7</text><text transform="translate(1230.37,3914.78) scale(0.7919,1)">9</text><text transform="translate(1257.56,3914.78) scale(0.7795,1)">8</text><text transform="translate(1284.19,3914.78) scale(0.7927,1)">6</text><text transform="translate(1311.56,3914.78) scale(0.7795,1)">8</text><text transform="translate(1338.81,3914.78) scale(0.7715,1)">3</text></g><path transform="translate(1067.50,3914.03)" d="M98.80 -35.95V-1.25M90.30 -30.60H98.80M314.80 -35.95V-1.25M306.30 -30.60H314.80" stroke="#000" stroke-width="2.5" fill="none" stroke-linecap="square"/>
<g font-family="Liberation Sans" font-size="57.41" stroke="#fff" stroke-width="1.5"><text transform="translate(1065.56,3968.40) scale(0.8888,1)">L</text><text transform="translate(1096.04,3968.40) scale(0.5358,1)">O</text><text transform="translate(1121.95,3968.40) scale(0.6188,1)">C</text><text transform="translate(1176.78,3968.40) scale(0.7652,1)">0</text><text transform="translate(1203.73,3968.40) scale(0.7715,1)">5</text><text transform="translate(1230.81,3968.40) scale(0.7715,1)">3</text><text transform="translate(1257.13,3968.40) scale(0.8046,1)">7</text><text transform="translate(1284.18,3968.40) scale(0.8029,1)">2</text><text transform="translate(1312.54,3968.40) scale(0.7259,1)">4</text><text transform="translate(1338.37,3968.40) scale(0.7919,1)">9</text><text transform="translate(1365.13,3968.40) scale(0.8046,1)">7</text></g><path transform="translate(1067.50,3967.65)" d="M98.80 -35.95V-1.25M90.30 -30.60H98.80" stroke="#000" stroke-width="2.5" fill="none" stroke-linecap="square"/>
<g font-family="Liberation Sans" font-size="57.41" stroke="#fff" stroke-width="1.5"><text transform="translate(1065.75,4022.03) scale(0.6379,1)">M</text><text transform="translate(1093.34,4022.03) scale(0.7231,1)">E</text><text transform="translate(1128.78,4022.03) scale(0.7800,1)">I</text><text transform="translate(1148.98,4022.03) scale(0.6808,1)">S</text><text transform="translate(1202.75,4022.03) scale(0.8307,1)">–</text><text transform="translate(1229.17,4022.03) scale(0.7224,1)">A</text><text transform="translate(1256.98,4022.03) scale(0.6808,1)">S</text><text transform="translate(1284.18,4022.03) scale(0.8029,1)">2</text></g><path transform="translate(1067.50,4021.28)" d="M125.80 -35.95V-1.25M117.30 -30.60H125.80" stroke="#000" stroke-width="2.5" fill="none" stroke-linecap="square"/>
<g font-family="Liberation Sans" font-size="57.41" stroke="#fff" stroke-width="1.5"><text transform="translate(1066.28,4075.65) scale(0.7363,1)">B</text><text transform="translate(1096.04,4075.65) scale(0.5358,1)">O</text><text transform="translate(1120.64,4075.65) scale(0.6600,1)">R</text><text transform="translate(1148.95,4075.65) scale(0.6188,1)">C</text><text transform="translate(1175.98,4075.65) scale(0.6808,1)">S</text><text transform="translate(1203.13,4075.65) scale(0.8046,1)">7</text><text transform="translate(1229.75,4075.65) scale(0.8307,1)">–</text><text transform="translate(1256.17,4075.65) scale(0.7224,1)">A</text><text transform="translate(1283.98,4075.65) scale(0.6808,1)">S</text><text transform="translate(1308.75,4075.65) scale(0.6379,1)">M</text><text transform="translate(1337.40,4075.65) scale(0.7763,1)">T</text></g>
<g font-family="Liberation Sans" font-size="57.41" stroke="#fff" stroke-width="1.5"><text transform="translate(1066.64,4129.28) scale(0.6600,1)">R</text><text transform="translate(1093.28,4129.28) scale(0.7363,1)">P</text><text transform="translate(1121.98,4129.28) scale(0.6808,1)">S</text><text transform="translate(1177.54,4129.28) scale(0.7259,1)">4</text><text transform="translate(1201.28,4129.28) scale(0.7363,1)">P</text><text transform="translate(1231.54,4129.28) scale(0.7259,1)">4</text></g><path transform="translate(1067.50,4128.53)" d="M98.80 -35.95V-1.25M90.30 -30.60H98.80" stroke="#000" stroke-width="2.5" fill="none" stroke-linecap="square"/>
<g font-family="Liberation Sans" font-size="57.41" stroke="#fff" stroke-width="1.5"><text transform="translate(1066.64,4182.90) scale(0.6600,1)">R</text><text transform="translate(1093.28,4182.90) scale(0.7363,1)">P</text><text transform="translate(1119.56,4182.90) scale(0.8888,1)">L</text><text transform="translate(1149.81,4182.90) scale(0.7715,1)">3</text><text transform="translate(1176.19,4182.90) scale(0.7927,1)">6</text><text transform="translate(1202.17,4182.90) scale(0.7224,1)">A</text><text transform="translate(1228.28,4182.90) scale(0.7363,1)">P</text><text transform="translate(1284.56,4182.90) scale(0.7795,1)">8</text></g><path transform="translate(1067.50,4182.15)" d="M206.80 -35.95V-1.25M198.30 -30.60H206.80" stroke="#000" stroke-width="2.5" fill="none" stroke-linecap="square"/>
<g font-family="Liberation Sans" font-size="57.41" stroke="#fff" stroke-width="1.5"><text transform="translate(1066.64,4236.53) scale(0.6600,1)">R</text><text transform="translate(1093.45,4236.53) scale(0.7016,1)">N</text><text transform="translate(1122.13,4236.53) scale(0.8046,1)">7</text><text transform="translate(1148.98,4236.53) scale(0.6808,1)">S</text><text transform="translate(1173.56,4236.53) scale(0.8888,1)">L</text><text transform="translate(1204.54,4236.53) scale(0.7259,1)">4</text><text transform="translate(1231.54,4236.53) scale(0.7259,1)">4</text><text transform="translate(1257.37,4236.53) scale(0.7919,1)">9</text><text transform="translate(1282.28,4236.53) scale(0.7363,1)">P</text></g>
<g font-family="Liberation Sans" font-size="57.41" stroke="#fff" stroke-width="1.5"><text transform="translate(1065.56,4290.15) scale(0.8888,1)">L</text><text transform="translate(1096.04,4290.15) scale(0.5358,1)">O</text><text transform="translate(1121.95,4290.15) scale(0.6188,1)">C</text><text transform="translate(1176.78,4290.15) scale(0.7652,1)">0</text><text transform="translate(1203.73,4290.15) scale(0.7715,1)">5</text><text transform="translate(1230.81,4290.15) scale(0.7715,1)">3</text><text transform="translate(1257.13,4290.15) scale(0.8046,1)">7</text><text transform="translate(1284.19,4290.15) scale(0.7927,1)">6</text><text transform="translate(1311.19,4290.15) scale(0.7927,1)">6</text><text transform="translate(1338.56,4290.15) scale(0.7795,1)">8</text></g><path transform="translate(1067.50,4289.40)" d="M98.80 -35.95V-1.25M90.30 -30.60H98.80M314.80 -35.95V-1.25M306.30 -30.60H314.80" stroke="#000" stroke-width="2.5" fill="none" stroke-linecap="square"/>
<g font-family="Liberation Sans" font-size="57.41" stroke="#fff" stroke-width="1.5"><text transform="translate(1065.75,4343.78) scale(0.6379,1)">M</text><text transform="translate(1093.64,4343.78) scale(0.6600,1)">R</text><text transform="translate(1120.28,4343.78) scale(0.7363,1)">P</text><text transform="translate(1148.98,4343.78) scale(0.6808,1)">S</text><text transform="translate(1203.56,4343.78) scale(0.7795,1)">8</text><text transform="translate(1229.95,4343.78) scale(0.6188,1)">C</text><text transform="translate(1255.28,4343.78) scale(0.7363,1)">P</text><text transform="translate(1284.19,4343.78) scale(0.7927,1)">6</text></g><path transform="translate(1067.50,4343.03)" d="M125.80 -35.95V-1.25M117.30 -30.60H125.80" stroke="#000" stroke-width="2.5" fill="none" stroke-linecap="square"/>
<g font-family="Liberation Sans" font-size="57.41" stroke="#fff" stroke-width="1.5"><text transform="translate(1066.64,4397.40) scale(0.6600,1)">R</text><text transform="translate(1093.45,4397.40) scale(0.7016,1)">N</text><text transform="translate(1122.13,4397.40) scale(0.8046,1)">7</text><text transform="translate(1148.98,4397.40) scale(0.6808,1)">S</text><text transform="translate(1173.56,4397.40) scale(0.8888,1)">L</text><text transform="translate(1204.54,4397.40) scale(0.7259,1)">4</text><text transform="translate(1230.81,4397.40) scale(0.7715,1)">3</text><text transform="translate(1257.18,4397.40) scale(0.8029,1)">2</text><text transform="translate(1282.28,4397.40) scale(0.7363,1)">P</text></g>
<g font-family="Liberation Sans" font-size="57.41" stroke="#fff" stroke-width="1.5"><text transform="translate(1066.64,4451.03) scale(0.6600,1)">R</text><text transform="translate(1093.45,4451.03) scale(0.7016,1)">N</text><text transform="translate(1122.13,4451.03) scale(0.8046,1)">7</text><text transform="translate(1148.98,4451.03) scale(0.6808,1)">S</text><text transform="translate(1174.53,4451.03) scale(0.6831,1)">K</text><text transform="translate(1201.28,4451.03) scale(0.7363,1)">P</text><text transform="translate(1230.13,4451.03) scale(0.8046,1)">7</text></g><path transform="translate(1067.50,4450.28)" d="M206.80 -35.95V-1.25M198.30 -30.60H206.80" stroke="#000" stroke-width="2.5" fill="none" stroke-linecap="square"/>
<g font-family="Liberation Sans" font-size="57.41" stroke="#fff" stroke-width="1.5"><text transform="translate(1066.64,4504.65) scale(0.6600,1)">R</text><text transform="translate(1093.45,4504.65) scale(0.7016,1)">N</text><text transform="translate(1122.13,4504.65) scale(0.8046,1)">7</text><text transform="translate(1148.98,4504.65) scale(0.6808,1)">S</text><text transform="translate(1173.56,4504.65) scale(0.8888,1)">L</text><text transform="translate(1203.81,4504.65) scale(0.7715,1)">3</text><text transform="translate(1230.18,4504.65) scale(0.8029,1)">2</text><text transform="translate(1257.56,4504.65) scale(0.7795,1)">8</text><text transform="translate(1282.28,4504.65) scale(0.7363,1)">P</text></g>
<g font-family="Liberation Sans" font-size="57.41" stroke="#fff" stroke-width="1.5"><text transform="translate(1066.64,4558.28) scale(0.6600,1)">R</text><text transform="translate(1093.28,4558.28) scale(0.7363,1)">P</text><text transform="translate(1119.56,4558.28) scale(0.8888,1)">L</text><text transform="translate(1149.81,4558.28) scale(0.7715,1)">3</text><text transform="translate(1201.28,4558.28) scale(0.7363,1)">P</text><text transform="translate(1257.73,4558.28) scale(0.7715,1)">5</text></g><path transform="translate(1067.50,4557.53)" d="M125.80 -35.95V-1.25M117.30 -30.60H125.80M179.80 -35.95V-1.25M171.30 -30.60H179.80" stroke="#000" stroke-width="2.5" fill="none" stroke-linecap="square"/>
<g font-family="Liberation Sans" font-size="57.41" stroke="#fff" stroke-width="1.5"><text transform="translate(1066.64,4611.90) scale(0.6600,1)">R</text><text transform="translate(1093.28,4611.90) scale(0.7363,1)">P</text><text transform="translate(1121.98,4611.90) scale(0.6808,1)">S</text><text transform="translate(1176.73,4611.90) scale(0.7715,1)">5</text><text transform="translate(1202.17,4611.90) scale(0.7224,1)">A</text><text transform="translate(1228.28,4611.90) scale(0.7363,1)">P</text><text transform="translate(1257.81,4611.90) scale(0.7715,1)">3</text><text transform="translate(1284.19,4611.90) scale(0.7927,1)">6</text></g><path transform="translate(1067.50,4611.15)" d="M98.80 -35.95V-1.25M90.30 -30.60H98.80" stroke="#000" stroke-width="2.5" fill="none" stroke-linecap="square"/>
<g font-family="Liberation Sans" font-size="57.41" stroke="#fff" stroke-width="1.5"><text transform="translate(1066.64,4665.53) scale(0.6600,1)">R</text><text transform="translate(1093.28,4665.53) scale(0.7363,1)">P</text><text transform="translate(1119.56,4665.53) scale(0.8888,1)">L</text><text transform="translate(1149.81,4665.53) scale(0.7715,1)">3</text><text transform="translate(1177.54,4665.53) scale(0.7259,1)">4</text><text transform="translate(1201.28,4665.53) scale(0.7363,1)">P</text></g><path transform="translate(1067.50,4664.78)" d="M179.80 -35.95V-1.25M171.30 -30.60H179.80M206.80 -35.95V-1.25M198.30 -30.60H206.80" stroke="#000" stroke-width="2.5" fill="none" stroke-linecap="square"/>
</svg>
</body></html>
